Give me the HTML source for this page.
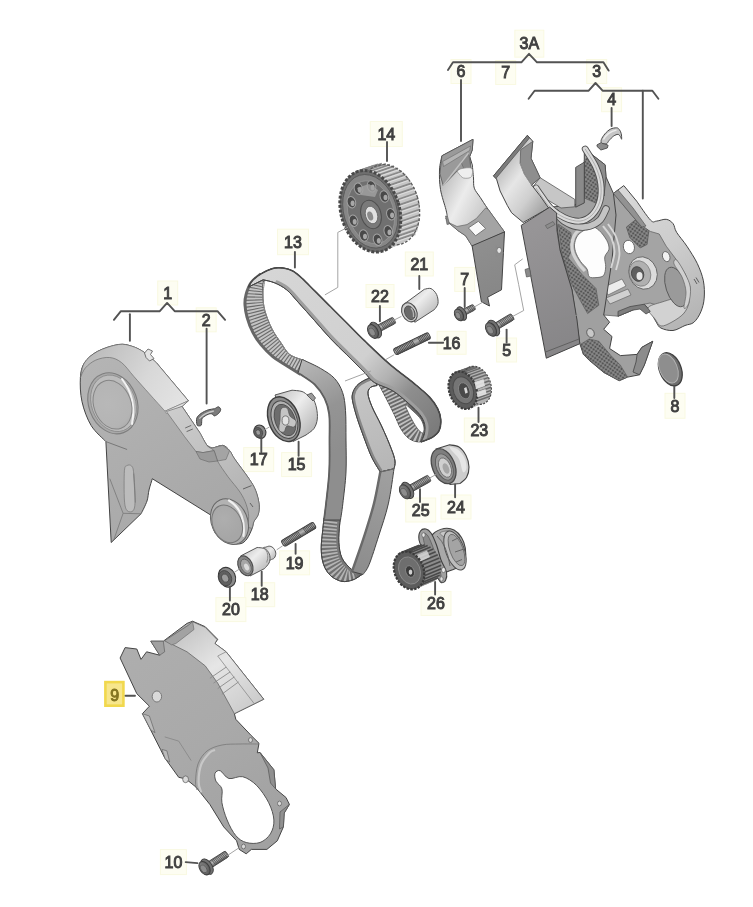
<!DOCTYPE html>
<html><head><meta charset="utf-8"><title>Timing belt</title>
<style>
html,body{margin:0;padding:0;background:#fff;}
body{width:753px;height:907px;overflow:hidden;font-family:"Liberation Sans",sans-serif;}
svg{display:block;}
.lb{font-family:"Liberation Sans",sans-serif;font-size:16px;fill:#404040;stroke:#404040;stroke-width:.95px;text-anchor:middle;}
.bx{fill:#fdfdf2;stroke:#f9f9e2;stroke-width:1;}
.ld{stroke:#525252;stroke-width:1.9;fill:none;stroke-linecap:round;stroke-linejoin:round;}
.th{stroke:#a4a4a4;stroke-width:1;fill:none;}
.o{stroke:#444;stroke-width:1;stroke-linejoin:round;}
</style></head><body>
<svg width="753" height="907" viewBox="0 0 753 907">
<defs>
<filter id="soft" x="-5%" y="-5%" width="110%" height="110%"><feGaussianBlur stdDeviation="0.65"/></filter>


<pattern id="mesh" width="3.1" height="3.1" patternUnits="userSpaceOnUse" patternTransform="rotate(35)">
 <rect width="3.1" height="3.1" fill="#9a9a9a"/><rect x=".4" y=".4" width="2.3" height="2.3" fill="#545454"/></pattern>
<linearGradient id="c3fin" gradientUnits="userSpaceOnUse" x1="498" y1="170" x2="545" y2="205">
 <stop offset="0" stop-color="#bcbcbc"/><stop offset=".35" stop-color="#e6e6e6"/><stop offset=".7" stop-color="#cfcfcf"/><stop offset="1" stop-color="#a8a8a8"/></linearGradient>
<linearGradient id="c3pan" gradientUnits="userSpaceOnUse" x1="525" y1="230" x2="580" y2="350">
 <stop offset="0" stop-color="#979597"/><stop offset="1" stop-color="#868587"/></linearGradient>
<linearGradient id="c3wall" gradientUnits="userSpaceOnUse" x1="625" y1="190" x2="705" y2="310">
 <stop offset="0" stop-color="#d8d8d8"/><stop offset=".5" stop-color="#cdcdcd"/><stop offset="1" stop-color="#b5b5b5"/></linearGradient>


<linearGradient id="c6body" gradientUnits="userSpaceOnUse" x1="440" y1="185" x2="490" y2="210">
 <stop offset="0" stop-color="#bdbdbd"/><stop offset=".45" stop-color="#ececec"/><stop offset="1" stop-color="#c4c4c4"/></linearGradient>
<linearGradient id="c6low" gradientUnits="userSpaceOnUse" x1="470" y1="240" x2="500" y2="300">
 <stop offset="0" stop-color="#909090"/><stop offset="1" stop-color="#868686"/></linearGradient>


<linearGradient id="c1face" gradientUnits="userSpaceOnUse" x1="110" y1="350" x2="230" y2="540">
 <stop offset="0" stop-color="#b4b4b4"/><stop offset=".5" stop-color="#adadad"/><stop offset="1" stop-color="#a6a6a6"/></linearGradient>
<linearGradient id="c1wall" gradientUnits="userSpaceOnUse" x1="95" y1="350" x2="185" y2="405">
 <stop offset="0" stop-color="#bcbcbc"/><stop offset=".55" stop-color="#d8d8d8"/><stop offset="1" stop-color="#e4e4e4"/></linearGradient>
<linearGradient id="c1wall2" gradientUnits="userSpaceOnUse" x1="175" y1="410" x2="255" y2="520">
 <stop offset="0" stop-color="#cccccc"/><stop offset=".5" stop-color="#bebebe"/><stop offset="1" stop-color="#adadad"/></linearGradient>
<radialGradient id="c1big" gradientUnits="userSpaceOnUse" cx="108" cy="402" r="30">
 <stop offset="0" stop-color="#b8b8b8"/><stop offset=".8" stop-color="#b4b4b4"/><stop offset="1" stop-color="#adadad"/></radialGradient>
<radialGradient id="c1sm" gradientUnits="userSpaceOnUse" cx="226" cy="518" r="20">
 <stop offset="0" stop-color="#aeaeae"/><stop offset="1" stop-color="#a6a6a6"/></radialGradient>


<linearGradient id="c9face" gradientUnits="userSpaceOnUse" x1="130" y1="640" x2="280" y2="850">
 <stop offset="0" stop-color="#aeaeae"/><stop offset=".5" stop-color="#a9a9a9"/><stop offset="1" stop-color="#a0a0a0"/></linearGradient>
<linearGradient id="c9roof" gradientUnits="userSpaceOnUse" x1="190" y1="625" x2="255" y2="710">
 <stop offset="0" stop-color="#c6c6c6"/><stop offset=".45" stop-color="#e6e6e6"/><stop offset="1" stop-color="#cacaca"/></linearGradient>


<linearGradient id="gTop" gradientUnits="userSpaceOnUse" x1="270" y1="270" x2="440" y2="430">
 <stop offset="0" stop-color="#d6d6d6"/><stop offset=".55" stop-color="#d0d0d0"/><stop offset=".68" stop-color="#b2b2b2"/><stop offset=".79" stop-color="#8e8e8e"/><stop offset="1" stop-color="#7a7a7a"/></linearGradient>
<linearGradient id="gLeftS" gradientUnits="userSpaceOnUse" x1="290" y1="355" x2="340" y2="450">
 <stop offset="0" stop-color="#bebebe"/><stop offset=".6" stop-color="#949494"/><stop offset="1" stop-color="#8e8e8e"/></linearGradient>
<linearGradient id="gV1" gradientUnits="userSpaceOnUse" x1="355" y1="385" x2="395" y2="465">
 <stop offset="0" stop-color="#c6c6c6"/><stop offset="1" stop-color="#b6b6b6"/></linearGradient>
<linearGradient id="gV2" gradientUnits="userSpaceOnUse" x1="390" y1="470" x2="355" y2="575">
 <stop offset="0" stop-color="#a0a0a0"/><stop offset="1" stop-color="#8c8c8c"/></linearGradient>
<clipPath id="clTL"><path d="M282.8,268.0C281.1,268.1 276.5,267.5 272.8,268.5C269.1,269.5 264.5,271.5 260.9,273.9C257.3,276.3 253.5,279.4 251.0,282.9C248.5,286.4 247.0,291.1 246.0,294.8C245.0,298.5 244.8,301.1 245.0,304.8C245.2,308.5 245.7,312.4 247.0,317.0C248.3,321.6 250.7,328.1 253.0,332.7C255.3,337.3 257.7,340.6 261.0,344.6C264.3,348.6 268.8,353.3 272.8,356.6C276.8,359.9 280.2,361.6 284.8,364.6C289.4,367.6 298.1,372.9 300.7,374.5L304.7,360.6C302.2,359.6 293.8,357.6 289.8,354.6C285.8,351.6 283.8,346.9 280.8,342.6C277.8,338.3 274.5,334.0 271.9,328.7C269.2,323.4 266.4,316.4 264.9,310.8C263.4,305.2 262.9,300.1 262.9,295.0C262.9,289.9 261.7,282.2 264.9,279.9C268.1,277.6 279.1,280.8 282.0,281.0Z"/></clipPath>
<clipPath id="clR"><path d="M374.0,377.0C374.7,378.0 376.0,379.5 378.0,383.0C380.0,386.5 383.2,392.7 386.0,398.0C388.8,403.3 392.0,409.8 394.5,415.0C397.0,420.2 398.6,425.1 401.0,429.0C403.4,432.9 405.9,436.4 409.0,438.5C412.1,440.6 415.9,442.1 419.9,441.9C423.8,441.7 430.6,437.9 432.7,437.1L423.0,434.0C423.2,432.7 424.5,428.8 424.2,426.0C423.9,423.2 423.0,420.2 421.0,417.0C419.0,413.8 414.7,410.2 412.0,407.0C409.3,403.8 408.2,403.2 405.0,398.0C401.8,392.8 394.8,379.7 392.7,376.0Z"/></clipPath>
<clipPath id="clB"><path d="M324.0,518.0C323.8,519.9 323.3,524.4 322.8,529.5C322.3,534.6 321.1,542.9 321.2,548.7C321.3,554.6 322.0,560.1 323.6,564.6C325.2,569.1 327.7,573.0 330.8,575.8C333.9,578.6 338.3,580.7 342.0,581.4C345.7,582.1 349.8,580.9 353.1,579.8C356.4,578.6 360.5,575.4 362.0,574.5L355.0,571.0C354.4,570.7 353.7,571.5 351.5,569.4C349.3,567.3 344.1,562.7 342.0,558.2C339.9,553.7 339.2,547.8 338.8,542.3C338.4,536.8 339.3,529.0 339.6,525.0C339.9,521.0 340.4,519.2 340.5,518.0Z"/></clipPath>
<clipPath id="clV"><path d="M375.0,377.0C373.5,377.4 369.0,378.1 366.0,379.5C363.0,380.9 359.2,383.1 357.0,385.5C354.8,387.9 353.2,391.1 352.5,394.0C351.8,396.9 352.1,398.8 353.0,403.0C353.9,407.2 355.5,413.0 357.6,419.5C359.7,426.0 363.2,435.5 365.6,441.9C368.0,448.3 369.6,452.8 372.0,457.8C374.4,462.8 378.9,469.6 380.3,472.0L394.0,468.8C394.2,467.5 395.5,464.4 395.0,461.0C394.5,457.6 393.4,454.2 391.1,448.3C388.9,442.4 384.7,432.8 381.5,425.9C378.3,419.0 374.2,412.0 372.0,406.7C369.8,401.4 368.3,397.1 368.0,393.9C367.7,390.7 368.9,388.9 370.4,387.5C371.9,386.1 375.9,385.8 377.0,385.5Z"/></clipPath>
<clipPath id="clT"><path d="M248.5,287.0C249.2,285.9 250.4,282.7 252.5,280.5C254.6,278.3 257.5,275.9 260.9,273.9C264.3,271.9 269.1,269.5 272.8,268.5C276.5,267.5 279.5,267.6 282.8,268.0C286.1,268.4 289.5,269.2 292.8,271.0C296.1,272.8 299.1,275.6 302.7,278.9C306.3,282.2 310.0,286.2 314.7,290.9C319.4,295.5 325.3,301.5 330.6,306.8C335.9,312.1 341.0,317.1 346.6,322.7C352.2,328.3 357.4,333.9 364.5,340.7C371.6,347.5 380.6,356.3 389.0,363.6C397.4,370.9 408.4,378.7 415.1,384.3C421.9,389.9 425.8,393.1 429.5,397.1C433.2,401.1 435.6,404.6 437.5,408.3C439.4,412.0 440.4,415.8 440.7,419.5C441.0,423.2 440.4,427.8 439.1,430.7C437.8,433.6 435.7,435.2 432.7,437.1C429.7,439.0 422.9,441.1 421.0,441.9L421.0,441.9C421.6,440.6 423.8,436.8 424.4,433.9C425.0,431.0 425.4,427.5 424.7,424.3C423.9,421.1 422.6,418.2 419.9,414.7C417.2,411.2 413.2,407.5 408.7,403.5C404.2,399.5 398.4,394.2 392.7,390.7C387.0,387.2 379.1,385.5 374.4,382.5C369.7,379.5 369.1,377.1 364.5,372.5C359.9,367.9 352.2,360.2 346.6,354.6C341.0,349.0 335.9,344.4 330.6,338.7C325.3,333.0 320.0,326.7 314.7,320.7C309.4,314.7 303.3,307.9 298.7,302.8C294.1,297.7 290.8,293.2 286.8,289.9C282.8,286.6 278.8,284.6 274.8,282.9C270.9,281.2 265.1,280.3 263.1,279.8Z"/></clipPath>

<linearGradient id="gCyl" x1="0" y1="0" x2="1" y2="1">
 <stop offset="0" stop-color="#bdbdbd"/><stop offset=".4" stop-color="#ededed"/><stop offset="1" stop-color="#a6a6a6"/></linearGradient>
<linearGradient id="gBolt" x1="0" y1="0" x2="0" y2="1">
 <stop offset="0" stop-color="#7c7c7c"/><stop offset=".45" stop-color="#b5b5b5"/><stop offset="1" stop-color="#555"/></linearGradient>
<radialGradient id="gHead" cx=".4" cy=".4" r=".7">
 <stop offset="0" stop-color="#9a9a9a"/><stop offset="1" stop-color="#4a4a4a"/></radialGradient>


</defs>
<rect width="753" height="907" fill="#fff"/>
<g filter="url(#soft)">
<rect class="bx" x="514.8" y="30.2" width="29.0" height="27.0"/>
<rect class="bx" x="451.0" y="59.5" width="20.0" height="24.0"/>
<rect class="bx" x="495.7" y="60.5" width="20.0" height="24.0"/>
<rect class="bx" x="586.7" y="59.5" width="20.0" height="24.0"/>
<rect class="bx" x="601.6" y="87.7" width="20.0" height="24.0"/>
<rect class="bx" x="370.3" y="121.5" width="32.0" height="25.0"/>
<rect class="bx" x="277.5" y="229.2" width="31.0" height="25.5"/>
<rect class="bx" x="405.3" y="252.0" width="28.0" height="24.0"/>
<rect class="bx" x="366.0" y="284.5" width="28.0" height="23.0"/>
<rect class="bx" x="454.7" y="267.4" width="20.0" height="24.0"/>
<rect class="bx" x="437.1" y="331.3" width="29.0" height="23.0"/>
<rect class="bx" x="496.6" y="338.0" width="20.0" height="24.0"/>
<rect class="bx" x="665.0" y="393.3" width="20.0" height="25.0"/>
<rect class="bx" x="464.3" y="418.0" width="30.0" height="24.0"/>
<rect class="bx" x="441.0" y="495.0" width="30.0" height="24.0"/>
<rect class="bx" x="405.7" y="498.0" width="30.0" height="24.0"/>
<rect class="bx" x="421.0" y="591.4" width="30.0" height="24.0"/>
<rect class="bx" x="157.7" y="281.0" width="20.0" height="24.0"/>
<rect class="bx" x="196.2" y="307.8" width="20.0" height="24.0"/>
<rect class="bx" x="243.7" y="447.6" width="30.0" height="24.0"/>
<rect class="bx" x="281.6" y="452.6" width="30.0" height="24.0"/>
<rect class="bx" x="279.6" y="550.8" width="30.0" height="24.0"/>
<rect class="bx" x="244.7" y="582.7" width="30.0" height="24.0"/>
<rect class="bx" x="215.9" y="597.6" width="30.0" height="24.0"/>
<rect class="bx" x="160.4" y="849.6" width="26.0" height="25.0"/>
<rect x="105.4" y="682.1" width="18" height="23.6" fill="#f7e68c" stroke="#f1d84e" stroke-width="2.6"/>
<path d="M613.4,193.4 L623.8,185.6 L636.7,201.2C639.0,204.4 647.3,216.9 650.6,220.2C653.9,223.5 654.0,221.2 656.6,221.1C659.2,220.9 663.5,218.9 666.2,219.3C669.0,219.7 671.4,221.5 673.1,223.7C674.8,225.9 674.3,228.6 676.6,232.3C678.9,236.1 683.5,241.0 686.9,246.2C690.3,251.4 694.5,257.7 697.3,263.5C700.0,269.3 702.2,275.0 703.4,280.8C704.5,286.6 704.6,292.9 704.2,298.1C703.8,303.3 702.5,307.9 700.8,311.9C699.1,315.9 696.5,320.0 693.9,322.3C691.3,324.6 688.5,324.1 685.0,325.5C681.5,326.9 677.0,330.1 673.0,330.5C669.0,330.9 663.8,329.5 661.0,328.1C658.2,326.7 658.1,325.0 656.3,322.2C654.5,319.4 652.3,314.4 650.3,311.4C648.3,308.4 645.3,305.4 644.3,304.2L632.4,310.2 L618,316.2 L618,311.4 L603.7,315 L596,290 L606,200 Z" fill="url(#c3wall)" class="o" stroke-width="1.1"/>
<path d="M613.4,193.4 L627.2,209.8 L641.9,227.1 L650.6,231.5 L659.2,234.0 L666.2,246.2 L676.6,260.0 L685.2,273.9 L690.4,287.7 L688.7,303.3 L683.5,313.7 L672.0,318.0 L660.0,306.0 L650.0,303.0 L644.3,304.2 L632.4,310.2 L618.0,316.2 L603.7,315.0 L596.0,290.0 L604.0,200.0Z" fill="#a4a4a4" stroke="#666" stroke-width=".8"/>
<path d="M648.0,308.0C649.2,305.2 655.7,304.0 662.0,302.0C668.3,300.0 681.5,295.8 686.0,296.0C690.5,296.2 689.1,300.4 688.7,303.3C688.3,306.2 686.3,310.6 683.5,313.7C680.7,316.8 675.8,319.9 672.0,322.0C668.2,324.1 663.8,326.5 661.0,326.0C658.2,325.5 657.2,322.0 655.0,319.0C652.8,316.0 646.8,310.8 648.0,308.0Z" fill="#d2d2d2" stroke="#666" stroke-width=".8"/>
<ellipse cx="676" cy="287" rx="10" ry="20.5" transform="rotate(-18 676 287)" fill="#9a9a9a" stroke="#5a5a5a" stroke-width=".9"/>
<path d="M676.6,260.0C678.5,261.6 682.9,269.3 685.2,273.9C687.5,278.5 689.8,282.8 690.4,287.7C691.0,292.6 689.8,299.9 688.7,303.3C687.6,306.7 684.5,309.9 684.0,308.0C683.5,306.1 686.3,297.2 686.0,292.0C685.7,286.8 684.0,281.7 682.0,277.0C680.0,272.3 674.9,266.8 674.0,264.0C673.1,261.2 674.7,258.4 676.6,260.0Z" fill="#d0d0d0" stroke="#666" stroke-width=".7"/>
<path d="M626.4,227.1 L635.0,220.2 L648.9,230.6 L647.1,244.4 L640.2,247.9 L629.8,237.5Z" fill="url(#mesh)" stroke="#555" stroke-width=".7"/>
<path d="M613.4,193.4 L618.0,190.0 L633.0,208.0 L646.0,226.0 L641.9,227.1 L627.2,209.8Z" fill="#929292" stroke="#555" stroke-width=".7"/>
<ellipse cx="643" cy="273" rx="14" ry="16.5" transform="rotate(-20 643 273)" fill="#dcdcdc" stroke="#666" stroke-width=".9"/>
<ellipse cx="640" cy="273.5" rx="10.5" ry="13" transform="rotate(-20 640 273.5)" fill="#b0b0b0" stroke="#777" stroke-width=".7"/>
<ellipse cx="637.6" cy="274" rx="6" ry="7.5" transform="rotate(-20 637.6 274)" fill="#5e5e5e" stroke="#444" stroke-width=".8"/>
<ellipse cx="639.5" cy="276" rx="3" ry="4" fill="#e8e8e8"/>
<ellipse cx="628.9" cy="247" rx="5.5" ry="6.8" transform="rotate(-15 628.9 247)" fill="#fff" stroke="#666" stroke-width=".9"/>
<ellipse cx="666.2" cy="256.6" rx="3.6" ry="5.2" transform="rotate(-20 666.2 256.6)" fill="#f2f2f2" stroke="#666" stroke-width=".9"/>
<path d="M694,279 l3,5 M696,277.5 l3,5" stroke="#555" stroke-width=".9"/>
<path d="M618.0,311.4 L630.0,306.6 L644.3,304.2 L650.3,311.4 L646.0,314.0 L640.0,309.0 L632.4,310.2 L618.0,316.2Z" fill="#7e7e7e" stroke="#4a4a4a" stroke-width=".8"/>
<path d="M604.0,287.0 L622.0,279.0 L626.0,286.0 L608.0,295.0Z" fill="#ececec" stroke="#666" stroke-width=".7"/>
<path d="M606.0,298.0 L628.0,289.0 L631.0,295.0 L610.0,304.0Z" fill="#d0d0d0" stroke="#666" stroke-width=".7"/>
<path d="M584.3,147.5 L589.5,152.7 L605.1,164.8 L606.0,176.9 L613.4,193.4 L616.0,215.0 L612.0,260.0 L606.0,300.0 L603.7,315.0 L609.6,322.2 L603.7,329.3 L612.0,336.5 L609.6,348.5 L620.4,355.6 L637.1,354.4 L641.9,347.3 L652.7,341.3 L644.3,365.2 L639.5,374.8 L627.6,377.1 L619.2,380.7 L603.7,372.4 L589.3,360.4 L583.4,354.4 L579.8,343.7 L572.0,290.0 L560.0,250.0 L556.9,225.0 L552.0,207.0 L575.0,205.0 L584.3,195.0Z" fill="#a0a0a0" class="o" stroke-width="1.1"/>
<path d="M558.3,224.0 L570.9,232.7 L572.3,249.4 L568.1,257.8 L582.0,274.5 L596.0,288.5 L598.8,305.2 L587.6,313.6 L580.0,300.0 L572.0,285.0 L562.0,255.0Z" fill="url(#mesh)" stroke="#555" stroke-width=".6"/>
<path d="M583.4,354.4 L603.7,372.4 L619.2,380.7 L627.6,377.1 L620.4,365.2 L610.9,355.6 L598.9,341.3 L589.3,338.9 L581.0,344.0Z" fill="url(#mesh)" stroke="#555" stroke-width=".6"/>
<path d="M584.3,160.0 L590.0,156.0 L598.0,172.0 L600.5,190.0 L598.0,204.0 L584.3,198.0Z" fill="url(#mesh)" stroke="#555" stroke-width=".6"/>
<path d="M637.1,354.4 L641.9,347.3 L652.7,341.3 L644.3,365.2 L639.5,374.8 L633.0,372.0 L636.0,362.0Z" fill="#8c8c8c" stroke="#444" stroke-width=".8"/>
<ellipse cx="590.5" cy="333" rx="3.6" ry="4.6" transform="rotate(-25 590.5 333)" fill="#c8c8c8" stroke="#555" stroke-width=".8"/>
<path d="M591.4,227.1C594.7,226.6 596.5,228.2 599.1,230.4C601.7,232.6 605.1,237.3 606.8,240.4C608.4,243.5 609.3,246.4 609.0,249.2C608.7,251.9 605.3,254.0 604.8,256.9C604.2,259.8 605.9,263.7 605.7,266.8C605.5,269.9 605.1,273.8 603.5,275.6C601.9,277.4 598.4,277.4 596.0,277.6C593.6,277.8 590.7,278.1 589.2,276.7C587.7,275.3 588.5,271.6 587.0,269.0C585.5,266.4 582.3,264.2 580.4,261.3C578.5,258.4 576.3,254.5 575.4,251.4C574.5,248.3 574.1,245.6 574.8,242.6C575.4,239.6 576.5,236.3 579.3,233.7C582.1,231.1 588.1,227.6 591.4,227.1Z" fill="#fdfdfd" stroke="#666" stroke-width=".9"/>
<path d="M586.0,226.5C584.3,227.6 578.3,230.2 576.0,233.0C573.7,235.8 572.5,239.7 572.0,243.0C571.5,246.3 571.8,249.5 573.0,253.0C574.2,256.5 577.0,261.0 579.0,264.0C581.0,267.0 584.0,269.8 585.0,271.0" fill="none" stroke="#d4d4d4" stroke-width="3.2"/>
<path d="M603.0,226.0C604.4,228.0 609.6,233.7 611.5,238.0C613.4,242.3 614.6,247.0 614.5,252.0C614.4,257.0 611.6,265.3 611.0,268.0" fill="none" stroke="#d5d5d5" stroke-width="2"/>
<path d="M608.0,224.0C609.4,226.3 614.6,233.0 616.5,238.0C618.4,243.0 619.6,248.7 619.5,254.0C619.4,259.3 616.6,267.3 616.0,270.0" fill="none" stroke="#d8d8d8" stroke-width="1.8"/>
<path d="M575.7,167.4 L584.3,162.2 L584.3,202.9 L575.7,207.2Z" fill="#8a8a8a" stroke="#444" stroke-width=".9"/>
<path d="M584.3,147.5 L589.5,152.7 L605.1,164.8 L606.0,176.9 L604.0,196.0 L598.0,170.0 L590.0,155.0Z" fill="#8e8e8e" stroke="#4a4a4a" stroke-width=".8"/>
<path d="M540.1,177.7 L574.8,199.4 L574.8,206.8 L561.0,208.0 L546.0,199.0 L533.5,186.0Z" fill="#c6c6c6" stroke="#555" stroke-width=".8"/>
<path d="M556.0,213.0C557.3,214.3 560.5,218.8 564.0,221.0C567.5,223.2 572.7,225.7 577.0,226.5C581.3,227.3 586.2,227.1 590.0,226.0C593.8,224.9 597.3,222.8 600.0,220.0C602.7,217.2 605.0,210.8 606.0,209.0" fill="none" stroke="#4f4f4f" stroke-width="7.5" stroke-linecap="round"/>
<path d="M556.0,213.0C557.3,214.3 560.5,218.8 564.0,221.0C567.5,223.2 572.7,225.7 577.0,226.5C581.3,227.3 586.2,227.1 590.0,226.0C593.8,224.9 597.3,222.8 600.0,220.0C602.7,217.2 605.0,210.8 606.0,209.0" fill="none" stroke="#c4c4c4" stroke-width="5.7" stroke-linecap="round"/>
<path d="M536.0,188.0C536.7,189.0 537.8,190.8 540.2,194.2C542.6,197.5 546.6,204.2 550.6,208.1C554.6,212.0 559.5,215.4 564.4,217.6C569.3,219.8 575.4,221.5 580.0,221.1C584.6,220.7 588.8,218.3 592.1,215.0C595.4,211.7 598.5,206.4 599.9,201.2C601.3,196.0 601.5,189.7 600.8,183.9C600.1,178.1 598.2,172.3 595.6,166.5C593.0,160.7 586.9,151.9 585.2,149.0" fill="none" stroke="#4f4f4f" stroke-width="6.8" stroke-linecap="round"/>
<path d="M536.0,188.0C536.7,189.0 537.8,190.8 540.2,194.2C542.6,197.5 546.6,204.2 550.6,208.1C554.6,212.0 559.5,215.4 564.4,217.6C569.3,219.8 575.4,221.5 580.0,221.1C584.6,220.7 588.8,218.3 592.1,215.0C595.4,211.7 598.5,206.4 599.9,201.2C601.3,196.0 601.5,189.7 600.8,183.9C600.1,178.1 598.2,172.3 595.6,166.5C593.0,160.7 586.9,151.9 585.2,149.0" fill="none" stroke="#dadada" stroke-width="5" stroke-linecap="round"/>
<path d="M536.0,188.0C536.7,189.0 537.8,190.8 540.2,194.2C542.6,197.5 546.6,204.2 550.6,208.1C554.6,212.0 559.5,215.4 564.4,217.6C569.3,219.8 575.4,221.5 580.0,221.1C584.6,220.7 588.8,218.3 592.1,215.0C595.4,211.7 598.5,206.4 599.9,201.2C601.3,196.0 601.5,189.7 600.8,183.9C600.1,178.1 598.2,172.3 595.6,166.5C593.0,160.7 586.9,151.9 585.2,149.0" fill="none" stroke="#a2a2a2" stroke-width=".8"/>
<path d="M527.4,135.3 L532.8,141.3 L531.0,158.3 L540.1,177.7 L531.6,185.0 L540.1,195.9 L548.6,208.0 L523.2,222.5 L511.6,212.8 L507.4,205.6 L500.1,191.0 L496.5,178.9 L493.5,175.9Z" fill="url(#c3fin)" class="o" stroke-width="1.2"/>
<path d="M520.7,149.8 L529.2,143.8 L532.8,141.3 L531.0,158.3 L540.1,177.7 L531.6,185.0 L524.4,174.1 L520.1,163.2Z" fill="#8e8e8e" stroke="#555" stroke-width=".7"/>
<path d="M527.4,135.3 L493.5,175.9 L495.8,178.6 L529.5,138.0Z" fill="#7c7c7c" stroke="#4a4a4a" stroke-width=".7"/>
<path d="M520.1,163.2 L524.4,174.1 L531.6,185" stroke="#9a9a9a" stroke-width=".8" fill="none"/>
<path d="M521.2,225.4 L549.7,207.2 L556.6,213.0 L556.9,229.9 L560.0,250.0 L566.0,270.0 L572.0,290.0 L577.0,320.0 L579.8,343.7 L546.3,358.2Z" fill="url(#c3pan)" class="o" stroke-width="1.1"/>
<path d="M542.7,324.5 L577.4,315" stroke="#8a8a8a" stroke-width="1"/>
<path d="M545.5,352 L579,339" stroke="#555" stroke-width=".8"/>
<path d="M545.4,225.5 L553.0,221.5 L555.0,224.5 L547.4,228.6Z" fill="#8c8c8c" stroke="#555" stroke-width=".6"/>
<path d="M529.5,268.0 L525.0,269.5 L526.5,277.0 L531.0,276.0Z" fill="#8a8a8a" stroke="#555" stroke-width=".7"/>
<path d="M473,139.3 L441.9,155.8C441.5,158.2 439.7,164.4 439.5,170.0C439.3,175.6 439.4,182.9 440.5,189.5C441.6,196.1 444.8,205.0 445.9,209.4C447.0,213.8 447.0,214.9 447.2,216.0L446,218.5 L448.5,222.5 L457.8,230.5 L465.7,235.8 L472.3,246.4 L504.5,231.9C501.8,228.2 492.2,215.1 488.2,209.4C484.2,203.7 482.6,201.0 480.3,197.5C478.0,194.0 475.4,191.4 474.3,188.2C473.2,184.9 473.8,181.9 473.5,178.0C473.2,174.1 472.5,167.2 472.3,165.0L469.7,156.5 L472.3,149.8 Z" fill="url(#c6body)" class="o" stroke-width="1.2"/>
<path d="M448.5,222.5 L457.0,226.5 L467.0,224.6 L476.3,218.6 L485.6,208.0 L488.2,209.4 L504.5,231.9 L472.3,246.4 L465.7,235.8 L457.8,230.5Z" fill="#a4a4a4" stroke="#666" stroke-width=".7"/>
<path d="M441.9,155.8 L473.0,139.3 L472.3,149.8 L469.7,156.5 L471.0,168.4 L458.4,169.7 L443.2,185.6 L439.9,173.7Z" fill="#9a9a9a" stroke="#555" stroke-width=".8"/>
<path d="M442.6,161.5 L470.5,146.0 L469.7,150.5 L443.5,166.5Z" fill="#b4b4b4" stroke="#6a6a6a" stroke-width=".6"/>
<path d="M468.5,153.0 L471.0,168.4 L464.0,169.0 L461.0,162.0Z" fill="#8a8a8a" stroke="#5f5f5f" stroke-width=".6"/>
<path d="M443.2,185.6 L468.5,153" stroke="#c2c2c2" stroke-width="1.4"/>
<path d="M457.5,171.0C457.9,170.0 459.8,169.0 462.0,168.5C464.2,168.0 469.2,167.3 471.0,168.0C472.8,168.7 472.6,170.9 472.5,172.5C472.4,174.1 472.0,176.6 470.5,177.5C469.0,178.4 465.3,178.5 463.5,178.0C461.7,177.5 460.5,175.7 459.5,174.5C458.5,173.3 457.1,172.0 457.5,171.0Z" fill="#efefef" stroke="#8a8a8a" stroke-width=".7"/>
<path d="M468.4,227.9 L478.3,221.3 L485.6,228.5 L475.6,235.8Z" fill="#fafafa" stroke="#6e6e6e" stroke-width=".9"/>
<path d="M445.5,216.0 L447.5,216.5 L449.5,224.0 L447.0,224.5Z" fill="#8a8a8a" stroke="#555" stroke-width=".6"/>
<path d="M472.1,245.8 L504.5,231.9 L501.5,289.8 L487.6,297.2 L489.5,306.0 L481.4,301.8Z" fill="url(#c6low)" class="o" stroke-width="1.1"/>
<ellipse cx="499.2" cy="250.4" rx="2.3" ry="3" fill="#e6e6e6" stroke="#555" stroke-width=".6"/>
<path d="M496.4,245.8 L496.4,256.2 L503.8,252.7" fill="none" stroke="#8a8a8a" stroke-width=".8"/>
<path d="M105.9,441.6C103.5,438.9 95.2,432.2 91.2,425.6C87.2,419.0 83.8,409.7 82.0,401.7C80.2,393.7 80.0,384.0 80.4,377.5C80.8,371.0 81.7,367.1 84.5,362.7C87.3,358.3 91.9,354.4 97.5,351.4C103.1,348.4 112.5,345.4 118.3,344.5C124.1,343.6 127.8,345.0 132.1,346.3C136.4,347.6 140.1,349.6 144.2,352.3C148.2,355.0 154.4,361.0 156.4,362.7L188.4,400.8 L182,406.4 L200.2,433.3C201.3,435.3 205.1,442.9 207.1,445.4C209.1,447.8 209.7,448.0 212.3,448.0C214.9,448.0 219.8,445.0 222.7,445.4C225.6,445.8 227.6,448.3 229.6,450.6C231.6,452.9 231.6,454.6 234.8,459.2C238.0,463.8 245.2,473.1 248.7,478.3C252.2,483.5 253.9,486.1 255.6,490.4C257.3,494.7 258.7,500.2 259.1,504.2C259.5,508.2 259.1,511.7 258.2,514.6C257.3,517.5 254.9,519.3 253.9,521.6C252.9,523.9 253.3,525.6 252.1,528.5C250.9,531.4 248.9,536.4 246.9,538.9C244.9,541.4 243.4,543.2 240.0,543.8C236.6,544.4 230.9,544.5 226.7,542.5C222.5,540.5 217.1,536.3 214.7,531.9C212.3,527.5 212.5,518.6 212.1,515.9L152.3,478.7C151.8,480.6 149.9,486.3 149.0,490.0C148.1,493.7 148.3,497.1 147.0,501.0C145.7,504.9 142.2,511.5 141.2,513.6L111.2,542.5 Z" fill="url(#c1face)" class="o" stroke-width="1.2"/>
<path d="M80.4,377.5C81.1,375.0 81.7,367.1 84.5,362.7C87.3,358.3 91.9,354.4 97.5,351.4C103.1,348.4 112.5,345.4 118.3,344.5C124.1,343.6 127.8,345.0 132.1,346.3C136.4,347.6 140.1,349.6 144.2,352.3C148.2,355.0 154.4,361.0 156.4,362.7L188.4,400.8 L165,411.2C162.4,408.3 154.6,399.7 149.4,393.9C144.2,388.1 138.5,381.7 133.9,376.5C129.3,371.3 125.8,365.9 121.7,362.7C117.7,359.5 113.9,357.9 109.6,357.5C105.3,357.1 99.8,358.4 95.8,360.1C91.8,361.8 88.0,365.0 85.4,367.9C82.8,370.8 81.2,375.9 80.4,377.5Z" fill="url(#c1wall)" stroke="#6e6e6e" stroke-width=".7"/>
<path d="M165.0,411.2 L188.4,400.8 L182.0,406.4 L166.4,413.6Z" fill="#e2e2e2" stroke="#777" stroke-width=".6"/>
<path d="M182,406.4 L200.2,433.3C201.3,435.3 205.1,442.9 207.1,445.4C209.1,447.8 209.7,448.0 212.3,448.0C214.9,448.0 219.8,445.0 222.7,445.4C225.6,445.8 227.6,448.3 229.6,450.6C231.6,452.9 231.6,454.6 234.8,459.2C238.0,463.8 245.2,473.1 248.7,478.3C252.2,483.5 253.9,486.1 255.6,490.4C257.3,494.7 258.7,500.2 259.1,504.2C259.5,508.2 259.1,511.7 258.2,514.6C257.3,517.5 254.9,519.3 253.9,521.6C252.9,523.9 252.4,527.4 252.1,528.5L247,527C247.3,525.2 248.8,520.2 248.7,516.4C248.5,512.6 247.5,508.2 246.1,504.2C244.7,500.1 243.0,496.7 240.0,492.1C237.0,487.5 231.7,481.8 227.9,476.6C224.2,471.4 219.8,465.3 217.5,461.0C215.2,456.7 214.7,452.3 214.1,450.6L203,452.6 L195.9,451.4 L184.6,436.7 L166.4,411.5 Z" fill="url(#c1wall2)" stroke="#6e6e6e" stroke-width=".7"/>
<path d="M207.1,445.4 L212.3,448.0 L222.7,445.4 L229.6,450.6 L226.0,459.5 L217.5,461.0 L214.1,450.6Z" fill="#a4a4a4" stroke="#666" stroke-width=".6"/>
<path d="M195.9,451.4 L203.0,452.6 L214.1,450.6 L217.5,461.0 L209.0,462.0 L200.0,459.0Z" fill="#9a9a9a" stroke="#666" stroke-width=".6"/>
<path d="M185.2,428 l6,-2.6 M186.6,431.6 l6.2,-2.6" stroke="#6a6a6a" stroke-width="1" fill="none"/>
<path d="M243,489 l8.5,-3.4 M250,503 l3,4" stroke="#5a5a5a" stroke-width=".9" fill="none"/>
<ellipse cx="112.9" cy="403.3" rx="24.2" ry="31.2" transform="rotate(-20 112.9 403.3)" fill="#a9a9a9" stroke="#7e7e7e" stroke-width="1.1"/>
<ellipse cx="113.5" cy="403.3" rx="22" ry="29" transform="rotate(-20 113.5 403.3)" fill="#bcbcbc" stroke="#8a8a8a" stroke-width=".8"/>
<path d="M122,379 Q137,398 132,424" stroke="#f2f2f2" stroke-width="2" fill="none" stroke-linecap="round"/>
<ellipse cx="112.5" cy="404.7" rx="18.6" ry="25" transform="rotate(-20 112.5 404.7)" fill="url(#c1big)" stroke="#858585" stroke-width="1"/>
<ellipse cx="229.5" cy="521.6" rx="18" ry="23.6" transform="rotate(-24 229.5 521.6)" fill="#b2b2b2" stroke="#666" stroke-width="1"/>
<path d="M229,500.5 Q246,511 243.5,536" stroke="#f0f0f0" stroke-width="2.2" fill="none" stroke-linecap="round"/>
<ellipse cx="227.2" cy="523.9" rx="14.4" ry="19.6" transform="rotate(-24 227.2 523.9)" fill="url(#c1sm)" stroke="#777" stroke-width="1"/>
<path d="M124.4,470.8C124.9,465.0 125.9,466.3 127.1,465.5C128.3,464.7 130.5,464.7 131.6,466.0C132.7,467.3 133.2,467.8 133.7,473.4C134.3,479.1 135.2,493.8 135.1,500.0C135.0,506.2 134.5,508.8 133.2,510.6C131.9,512.4 128.6,512.4 127.1,510.6C125.6,508.8 124.9,506.6 124.4,500.0C124.0,493.3 124.0,476.5 124.4,470.8Z" fill="#bcbcbc" stroke="#767676" stroke-width=".7"/>
<path d="M133.7,473.4 L135.3,502.6" stroke="#777" stroke-width=".8"/>
<path d="M109.8,478.7 L123.1,513.3 L141.2,513.8" stroke="#777" stroke-width=".8" fill="none"/>
<path d="M123.1,513.3 L113.8,539.8" stroke="#777" stroke-width=".8" fill="none"/>
<path d="M105.9,441.6 L127.1,449.5" stroke="#6a6a6a" stroke-width=".8" fill="none"/>
<path d="M144.5,353.0 L148.0,349.0 L152.5,351.0 L150.5,354.5 L154.0,358.5 L149.5,361.0 L146.0,357.5Z" fill="#e4e4e4" stroke="#555" stroke-width=".8"/>
<path d="M192.6,621.2 L205.2,626.7 L217.7,639.3 L214.9,643.5 L226.1,651.8 L263.7,699.2 L234.4,713.7 L235.8,719.3 L251.2,735.5 L259.0,743.3 L257.3,752.8 L260.0,752.5 L273.9,769.8 L275.6,788.9 L286.0,797.5 L289.4,804.4 L284.2,813.1 L283.4,826.9 L277.3,840.8 L266.9,849.4 L251.4,849.4 L246.2,853.8 L239.2,849.4 L236.6,840.8 L223.7,826.9 L209.8,804.4 L196.0,787.1 L186.0,779.0 L178.7,777.3 L164.7,757.8 L160.5,749.4 L142.4,713.7 L149.4,706.2 L136.8,693.7 L120.1,658.0 L125.1,647.6 L136.8,649.0 L141.0,659.4 L146.6,651.8 L159.7,655.2 L150.8,641.2 L163.3,641.2 L187.0,623.4Z" fill="url(#c9face)" class="o" stroke-width="1.1"/>
<path d="M164.7,640.7 L188.4,625.3 L192.6,621.7 L205.2,627.3 L217.1,639.6 L214.9,643.5 L226.1,651.8 L263.7,699.2 L234.4,713.7 L217.7,683.1 L205.2,665.8 L187.0,651.8Z" fill="url(#c9roof)" stroke="#666" stroke-width=".8"/>
<path d="M164.7,640.7 L188.4,625.3 L192.6,621.7 L194.0,629.5 L175.9,643.5 L171.7,644.9Z" fill="#a2a2a2" stroke="#666" stroke-width=".6"/>
<path d="M150.8,641.2 L163.3,641.2 L164.7,651.8 L159.7,655.2Z" fill="#a0a0a0" stroke="#555" stroke-width=".6"/>
<path d="M209.9,678.3 L226.1,667.2" stroke="#8a8a8a" stroke-width=".9"/>
<path d="M213.5,683.1 L230.2,671.9" stroke="#8a8a8a" stroke-width=".9"/>
<path d="M217.7,688.6 L234.4,676.9" stroke="#8a8a8a" stroke-width=".9"/>
<path d="M221.9,694.2 L238.6,681.9" stroke="#8a8a8a" stroke-width=".9"/>
<path d="M226.1,651.8 L217.7,656.0 L254.0,703.4" stroke="#8a8a8a" stroke-width=".8" fill="none"/>
<path d="M215.0,773.3C215.7,771.6 217.9,769.8 220.2,770.7C222.5,771.6 225.2,777.5 228.9,778.5C232.7,779.5 238.1,775.6 242.7,776.7C247.3,777.9 252.3,781.1 256.6,785.4C260.9,789.7 265.8,796.9 268.7,802.7C271.6,808.5 273.6,814.8 273.9,820.0C274.2,825.2 272.7,830.1 270.4,833.9C268.1,837.6 264.0,841.1 260.0,842.5C256.0,843.9 250.2,843.6 246.2,842.5C242.2,841.4 239.0,839.4 235.8,835.6C232.6,831.9 229.4,825.5 227.1,820.0C224.8,814.5 222.8,807.9 221.9,802.7C221.0,797.5 222.9,792.5 221.9,788.9C220.9,785.3 217.1,783.7 215.9,781.1C214.8,778.5 214.3,775.0 215.0,773.3Z" fill="#fff" stroke="#555" stroke-width="1"/>
<path d="M215.0,750.0C214.1,750.4 212.1,750.1 209.8,752.5C207.5,754.9 203.1,759.7 201.2,764.6C199.3,769.5 198.6,777.3 198.6,781.9C198.6,786.5 200.8,790.6 201.2,792.3" fill="none" stroke="#c8c8c8" stroke-width="2.2"/>
<path d="M258.0,744.0C255.0,744.0 246.0,743.8 240.0,744.0C234.0,744.2 227.5,743.8 222.0,745.0C216.5,746.2 211.0,747.8 207.0,751.0C203.0,754.2 199.9,758.8 198.0,764.0C196.1,769.2 195.7,777.7 195.5,782.0C195.3,786.3 196.8,788.7 197.0,790.0" fill="none" stroke="#777" stroke-width=".8"/>
<ellipse cx="156.9" cy="696.5" rx="4.7" ry="5.5" fill="#d9d9d9" stroke="#666" stroke-width=".8"/>
<ellipse cx="185.6" cy="779.3" rx="2.9" ry="3.4" fill="#d9d9d9" stroke="#666" stroke-width=".8"/>
<ellipse cx="250.5" cy="740.0" rx="2.0" ry="2.4" fill="#d9d9d9" stroke="#666" stroke-width=".8"/>
<ellipse cx="279.5" cy="803.5" rx="2.0" ry="2.4" fill="#d9d9d9" stroke="#666" stroke-width=".8"/>
<ellipse cx="243.5" cy="846.5" rx="2.0" ry="2.4" fill="#d9d9d9" stroke="#666" stroke-width=".8"/>
<path d="M142.4,713.7 L149.4,716.0 L155.0,732.7 L150.8,729.9Z" fill="#bcbcbc" stroke="#666" stroke-width=".7"/>
<path d="M161.9,749.4 L166.9,750.8 L169.7,762.0 L165.3,759.2Z" fill="#bcbcbc" stroke="#666" stroke-width=".7"/>
<path d="M260.0,752.5 L273.9,769.8 L275.6,788.9 L270.5,783.0 L268.0,768.0Z" fill="#909090" stroke="#555" stroke-width=".7"/>
<path d="M289.4,804.4 L284.2,813.1 L283.4,826.9 L279.5,829.0 L280.0,812.0Z" fill="#909090" stroke="#555" stroke-width=".7"/>
<path d="M164.7,736.9 L178.7,741.1 L191.2,760.6" stroke="#858585" stroke-width=".8" fill="none"/>
<path d="M282.8,268.0C281.1,268.1 276.5,267.5 272.8,268.5C269.1,269.5 264.5,271.5 260.9,273.9C257.3,276.3 253.5,279.4 251.0,282.9C248.5,286.4 247.0,291.1 246.0,294.8C245.0,298.5 244.8,301.1 245.0,304.8C245.2,308.5 245.7,312.4 247.0,317.0C248.3,321.6 250.7,328.1 253.0,332.7C255.3,337.3 257.7,340.6 261.0,344.6C264.3,348.6 268.8,353.3 272.8,356.6C276.8,359.9 280.2,361.6 284.8,364.6C289.4,367.6 298.1,372.9 300.7,374.5L304.7,360.6C302.2,359.6 293.8,357.6 289.8,354.6C285.8,351.6 283.8,346.9 280.8,342.6C277.8,338.3 274.5,334.0 271.9,328.7C269.2,323.4 266.4,316.4 264.9,310.8C263.4,305.2 262.9,300.1 262.9,295.0C262.9,289.9 261.7,282.2 264.9,279.9C268.1,277.6 279.1,280.8 282.0,281.0Z" fill="#c4c4c4" class="o"/>
<path d="M258.0,276.0C257.4,278.3 255.1,285.0 254.5,290.0C253.9,295.0 253.8,300.7 254.5,306.0C255.2,311.3 256.9,316.8 259.0,322.0C261.1,327.2 264.0,332.4 267.0,337.0C270.0,341.6 273.5,345.8 277.0,349.5C280.5,353.2 283.5,355.9 288.0,359.0C292.5,362.1 301.3,366.5 304.0,368.0" fill="none" stroke="#606060" stroke-width="19" stroke-dasharray="1.1 1.9" opacity=".9" clip-path="url(#clTL)"/>
<path d="M260.9,273.9C259.2,275.4 253.5,279.4 251.0,282.9C248.5,286.4 247.0,291.1 246.0,294.8C245.0,298.5 244.8,301.1 245.0,304.8C245.2,308.5 245.7,312.4 247.0,317.0C248.3,321.6 250.7,328.1 253.0,332.7C255.3,337.3 257.7,340.6 261.0,344.6C264.3,348.6 268.8,353.3 272.8,356.6C276.8,359.9 280.2,361.6 284.8,364.6C289.4,367.6 298.1,372.9 300.7,374.5" fill="none" stroke="#666" stroke-width="3"/>
<path d="M264.9,279.9C264.6,282.4 262.9,289.9 262.9,295.0C262.9,300.1 263.4,305.2 264.9,310.8C266.4,316.4 269.2,323.4 271.9,328.7C274.5,334.0 277.8,338.3 280.8,342.6C283.8,346.9 285.8,351.6 289.8,354.6C293.8,357.6 302.2,359.6 304.7,360.6" fill="none" stroke="#8a8a8a" stroke-width="1"/>
<path d="M374.0,377.0C374.7,378.0 376.0,379.5 378.0,383.0C380.0,386.5 383.2,392.7 386.0,398.0C388.8,403.3 392.0,409.8 394.5,415.0C397.0,420.2 398.6,425.1 401.0,429.0C403.4,432.9 405.9,436.4 409.0,438.5C412.1,440.6 415.9,442.1 419.9,441.9C423.8,441.7 430.6,437.9 432.7,437.1L423.0,434.0C423.2,432.7 424.5,428.8 424.2,426.0C423.9,423.2 423.0,420.2 421.0,417.0C419.0,413.8 414.7,410.2 412.0,407.0C409.3,403.8 408.2,403.2 405.0,398.0C401.8,392.8 394.8,379.7 392.7,376.0Z" fill="#6a6a6a" class="o"/>
<path d="M385.0,380.0C386.3,382.5 390.3,389.7 393.0,395.0C395.7,400.3 398.5,407.0 401.0,412.0C403.5,417.0 405.7,421.5 408.0,425.0C410.3,428.5 412.7,431.2 415.0,433.0C417.3,434.8 420.8,435.5 422.0,436.0" fill="none" stroke="#cfcfcf" stroke-width="18" stroke-dasharray="1.7 1.8" opacity=".85" clip-path="url(#clR)"/>
<path d="M405.5,405.0C406.0,404.2 410.4,408.6 413.0,411.0C415.6,413.4 419.2,416.7 421.0,419.5C422.8,422.3 423.8,425.8 424.0,428.0C424.2,430.2 423.7,433.0 422.5,433.0C421.3,433.0 419.1,430.8 417.0,428.0C414.9,425.2 411.9,419.8 410.0,416.0C408.1,412.2 405.0,405.8 405.5,405.0Z" fill="#fff" stroke="#555" stroke-width=".8"/>
<path d="M324.0,518.0C323.8,519.9 323.3,524.4 322.8,529.5C322.3,534.6 321.1,542.9 321.2,548.7C321.3,554.6 322.0,560.1 323.6,564.6C325.2,569.1 327.7,573.0 330.8,575.8C333.9,578.6 338.3,580.7 342.0,581.4C345.7,582.1 349.8,580.9 353.1,579.8C356.4,578.6 360.5,575.4 362.0,574.5L355.0,571.0C354.4,570.7 353.7,571.5 351.5,569.4C349.3,567.3 344.1,562.7 342.0,558.2C339.9,553.7 339.2,547.8 338.8,542.3C338.4,536.8 339.3,529.0 339.6,525.0C339.9,521.0 340.4,519.2 340.5,518.0Z" fill="#707070" class="o"/>
<path d="M332.0,518.0C331.8,520.3 330.8,527.0 330.5,532.0C330.2,537.0 329.7,543.2 330.0,548.0C330.3,552.8 331.0,557.2 332.5,561.0C334.0,564.8 336.6,568.6 339.0,571.0C341.4,573.4 344.2,575.0 347.0,575.5C349.8,576.0 354.5,574.2 356.0,574.0" fill="none" stroke="#c6c6c6" stroke-width="19" stroke-dasharray="1.7 1.8" opacity=".8" clip-path="url(#clB)"/>
<path d="M340.5,515.0C340.4,516.7 339.9,520.5 339.6,525.0C339.3,529.5 338.4,536.8 338.8,542.3C339.2,547.8 339.9,553.7 342.0,558.2C344.1,562.7 349.0,567.1 351.5,569.4C354.0,571.7 356.1,571.6 357.0,572.0" fill="none" stroke="#787878" stroke-width="5" clip-path="url(#clB)"/>
<path d="M324.0,518.0C323.8,519.9 323.3,524.4 322.8,529.5C322.3,534.6 321.1,542.9 321.2,548.7C321.3,554.6 322.0,560.1 323.6,564.6C325.2,569.1 327.7,573.0 330.8,575.8C333.9,578.6 338.3,580.7 342.0,581.4C345.7,582.1 349.8,580.9 353.1,579.8C356.4,578.6 360.5,575.4 362.0,574.5" fill="none" class="o" stroke-width="1.6"/>
<path d="M340.5,518.0C340.4,519.2 339.9,521.0 339.6,525.0C339.3,529.0 338.4,536.8 338.8,542.3C339.2,547.8 339.9,553.7 342.0,558.2C344.1,562.7 349.3,567.3 351.5,569.4C353.7,571.5 354.4,570.7 355.0,571.0" fill="none" class="o" stroke-width="1"/>
<path d="M302.0,359.5C302.4,359.7 301.6,359.1 304.7,360.6C307.8,362.1 315.7,365.5 320.7,368.5C325.7,371.5 331.0,374.5 334.6,378.5C338.2,382.5 340.8,387.2 342.6,392.5C344.4,397.8 344.9,402.5 345.5,410.4C346.1,418.3 345.9,429.7 346.0,440.0C346.1,450.3 346.5,461.4 346.0,472.0C345.5,482.6 343.7,495.9 342.8,503.9C341.9,511.9 340.9,517.3 340.5,520.0L324.0,520.0C324.3,517.3 325.1,511.9 326.0,503.9C326.9,495.9 328.6,482.6 329.2,472.0C329.8,461.4 329.5,449.6 329.5,440.0C329.5,430.4 330.0,421.3 329.2,414.4C328.4,407.5 327.0,403.4 324.6,398.4C322.2,393.4 318.7,388.5 314.7,384.5C310.7,380.5 303.5,376.4 300.7,374.5C297.9,372.6 298.4,373.2 298.0,373.0Z" fill="url(#gLeftS)" class="o"/>
<path d="M298.0,373.0C298.4,373.2 297.9,372.6 300.7,374.5C303.5,376.4 310.7,380.5 314.7,384.5C318.7,388.5 322.2,393.4 324.6,398.4C327.0,403.4 328.4,407.5 329.2,414.4C330.0,421.3 329.5,430.4 329.5,440.0C329.5,449.6 329.8,461.4 329.2,472.0C328.6,482.6 326.9,495.9 326.0,503.9C325.1,511.9 324.3,517.3 324.0,520.0" fill="none" stroke="#606060" stroke-width="1.8"/>
<path d="M375.0,377.0C373.5,377.4 369.0,378.1 366.0,379.5C363.0,380.9 359.2,383.1 357.0,385.5C354.8,387.9 353.2,391.1 352.5,394.0C351.8,396.9 352.1,398.8 353.0,403.0C353.9,407.2 355.5,413.0 357.6,419.5C359.7,426.0 363.2,435.5 365.6,441.9C368.0,448.3 369.6,452.8 372.0,457.8C374.4,462.8 378.9,469.6 380.3,472.0L394.0,468.8C394.2,467.5 395.5,464.4 395.0,461.0C394.5,457.6 393.4,454.2 391.1,448.3C388.9,442.4 384.7,432.8 381.5,425.9C378.3,419.0 374.2,412.0 372.0,406.7C369.8,401.4 368.3,397.1 368.0,393.9C367.7,390.7 368.9,388.9 370.4,387.5C371.9,386.1 375.9,385.8 377.0,385.5Z" fill="url(#gV1)" class="o"/>
<path d="M375.0,377.0C373.5,377.4 369.0,378.1 366.0,379.5C363.0,380.9 359.2,383.1 357.0,385.5C354.8,387.9 353.2,391.1 352.5,394.0C351.8,396.9 352.1,398.8 353.0,403.0C353.9,407.2 355.5,413.0 357.6,419.5C359.7,426.0 363.2,435.5 365.6,441.9C368.0,448.3 369.6,452.8 372.0,457.8C374.4,462.8 378.9,469.6 380.3,472.0" fill="none" stroke="#868686" stroke-width="5.5" clip-path="url(#clV)"/>
<path d="M375.0,377.0C373.5,377.4 369.0,378.1 366.0,379.5C363.0,380.9 359.2,383.1 357.0,385.5C354.8,387.9 353.2,391.1 352.5,394.0C351.8,396.9 352.1,398.8 353.0,403.0C353.9,407.2 355.5,413.0 357.6,419.5C359.7,426.0 363.2,435.5 365.6,441.9C368.0,448.3 369.6,452.8 372.0,457.8C374.4,462.8 378.9,469.6 380.3,472.0L394.0,468.8C394.2,467.5 395.5,464.4 395.0,461.0C394.5,457.6 393.4,454.2 391.1,448.3C388.9,442.4 384.7,432.8 381.5,425.9C378.3,419.0 374.2,412.0 372.0,406.7C369.8,401.4 368.3,397.1 368.0,393.9C367.7,390.7 368.9,388.9 370.4,387.5C371.9,386.1 375.9,385.8 377.0,385.5Z" fill="none" class="o"/>
<path d="M380.3,472.0C379.2,477.3 376.6,493.2 373.9,503.9C371.2,514.5 367.6,525.5 364.3,535.9C361.0,546.3 355.9,560.3 353.9,566.2C351.8,572.1 352.3,570.6 352.0,571.5L363.0,574.5C364.0,572.9 366.5,571.0 369.1,564.6C371.7,558.2 375.5,546.0 378.7,535.9C381.9,525.8 385.8,515.1 388.3,503.9C390.9,492.7 393.1,474.6 394.0,468.8Z" fill="url(#gV2)" class="o"/>
<path d="M380.3,472.0C379.2,477.3 376.6,493.2 373.9,503.9C371.2,514.5 367.6,525.5 364.3,535.9C361.0,546.3 355.9,560.3 353.9,566.2C351.8,572.1 352.3,570.6 352.0,571.5" fill="none" stroke="#6a6a6a" stroke-width="2.4"/>
<path d="M380.3,472 L394,468.8" stroke="#777" stroke-width=".8"/>
<path d="M248.5,287.0C249.2,285.9 250.4,282.7 252.5,280.5C254.6,278.3 257.5,275.9 260.9,273.9C264.3,271.9 269.1,269.5 272.8,268.5C276.5,267.5 279.5,267.6 282.8,268.0C286.1,268.4 289.5,269.2 292.8,271.0C296.1,272.8 299.1,275.6 302.7,278.9C306.3,282.2 310.0,286.2 314.7,290.9C319.4,295.5 325.3,301.5 330.6,306.8C335.9,312.1 341.0,317.1 346.6,322.7C352.2,328.3 357.4,333.9 364.5,340.7C371.6,347.5 380.6,356.3 389.0,363.6C397.4,370.9 408.4,378.7 415.1,384.3C421.9,389.9 425.8,393.1 429.5,397.1C433.2,401.1 435.6,404.6 437.5,408.3C439.4,412.0 440.4,415.8 440.7,419.5C441.0,423.2 440.4,427.8 439.1,430.7C437.8,433.6 435.7,435.2 432.7,437.1C429.7,439.0 422.9,441.1 421.0,441.9L421.0,441.9C421.6,440.6 423.8,436.8 424.4,433.9C425.0,431.0 425.4,427.5 424.7,424.3C423.9,421.1 422.6,418.2 419.9,414.7C417.2,411.2 413.2,407.5 408.7,403.5C404.2,399.5 398.4,394.2 392.7,390.7C387.0,387.2 379.1,385.5 374.4,382.5C369.7,379.5 369.1,377.1 364.5,372.5C359.9,367.9 352.2,360.2 346.6,354.6C341.0,349.0 335.9,344.4 330.6,338.7C325.3,333.0 320.0,326.7 314.7,320.7C309.4,314.7 303.3,307.9 298.7,302.8C294.1,297.7 290.8,293.2 286.8,289.9C282.8,286.6 278.8,284.6 274.8,282.9C270.9,281.2 265.1,280.3 263.1,279.8Z" fill="url(#gTop)" class="o"/>
<path d="M274.8,282.9C276.8,284.1 282.8,286.6 286.8,289.9C290.8,293.2 294.1,297.7 298.7,302.8C303.3,307.9 309.4,314.7 314.7,320.7C320.0,326.7 325.3,333.0 330.6,338.7C335.9,344.4 341.0,349.0 346.6,354.6C352.2,360.2 359.9,367.9 364.5,372.5C369.1,377.1 369.7,379.5 374.4,382.5C379.1,385.5 387.0,387.2 392.7,390.7C398.4,394.2 404.2,399.5 408.7,403.5C413.2,407.5 417.2,411.2 419.9,414.7C422.6,418.2 423.9,421.1 424.7,424.3C425.4,427.5 425.0,431.0 424.4,433.9C423.8,436.8 421.6,440.6 421.0,441.9" fill="none" stroke="#9e9e9e" stroke-width="7" clip-path="url(#clT)"/>
<path d="M248.5,287.0C249.2,285.9 250.4,282.7 252.5,280.5C254.6,278.3 257.5,275.9 260.9,273.9C264.3,271.9 269.1,269.5 272.8,268.5C276.5,267.5 279.5,267.6 282.8,268.0C286.1,268.4 289.5,269.2 292.8,271.0C296.1,272.8 299.1,275.6 302.7,278.9C306.3,282.2 310.0,286.2 314.7,290.9C319.4,295.5 325.3,301.5 330.6,306.8C335.9,312.1 341.0,317.1 346.6,322.7C352.2,328.3 357.4,333.9 364.5,340.7C371.6,347.5 380.6,356.3 389.0,363.6C397.4,370.9 408.4,378.7 415.1,384.3C421.9,389.9 425.8,393.1 429.5,397.1C433.2,401.1 435.6,404.6 437.5,408.3C439.4,412.0 440.4,415.8 440.7,419.5C441.0,423.2 440.4,427.8 439.1,430.7C437.8,433.6 435.7,435.2 432.7,437.1C429.7,439.0 422.9,441.1 421.0,441.9L421.0,441.9C421.6,440.6 423.8,436.8 424.4,433.9C425.0,431.0 425.4,427.5 424.7,424.3C423.9,421.1 422.6,418.2 419.9,414.7C417.2,411.2 413.2,407.5 408.7,403.5C404.2,399.5 398.4,394.2 392.7,390.7C387.0,387.2 379.1,385.5 374.4,382.5C369.7,379.5 369.1,377.1 364.5,372.5C359.9,367.9 352.2,360.2 346.6,354.6C341.0,349.0 335.9,344.4 330.6,338.7C325.3,333.0 320.0,326.7 314.7,320.7C309.4,314.7 303.3,307.9 298.7,302.8C294.1,297.7 290.8,293.2 286.8,289.9C282.8,286.6 278.8,284.6 274.8,282.9C270.9,281.2 265.1,280.3 263.1,279.8Z" fill="none" class="o"/>
<path d="M248.5,287.0C249.2,285.9 250.4,282.7 252.5,280.5C254.6,278.3 257.5,275.9 260.9,273.9C264.3,271.9 269.1,269.5 272.8,268.5C276.5,267.5 279.5,267.6 282.8,268.0C286.1,268.4 289.5,269.2 292.8,271.0C296.1,272.8 299.1,275.6 302.7,278.9C306.3,282.2 310.0,286.2 314.7,290.9C319.4,295.5 325.3,301.5 330.6,306.8C335.9,312.1 341.0,317.1 346.6,322.7C352.2,328.3 357.4,333.9 364.5,340.7C371.6,347.5 380.6,356.3 389.0,363.6C397.4,370.9 408.4,378.7 415.1,384.3C421.9,389.9 425.8,393.1 429.5,397.1C433.2,401.1 435.6,404.6 437.5,408.3C439.4,412.0 440.4,415.8 440.7,419.5C441.0,423.2 440.4,427.8 439.1,430.7C437.8,433.6 435.7,435.2 432.7,437.1C429.7,439.0 422.9,441.1 421.0,441.9" fill="none" stroke="#4a4a4a" stroke-width="1.6"/>
<g><ellipse cx="389.3" cy="204.8" rx="28.7" ry="40.7" transform="rotate(-17 389.3 204.8)" fill="#c6c6c6"/><ellipse cx="386.9" cy="205.6" rx="28.8" ry="40.9" transform="rotate(-17 386.9 205.6)" fill="#c6c6c6"/><ellipse cx="384.6" cy="206.4" rx="28.9" ry="41.1" transform="rotate(-17 384.6 206.4)" fill="#c6c6c6"/><ellipse cx="382.2" cy="207.2" rx="29.1" ry="41.3" transform="rotate(-17 382.2 207.2)" fill="#c6c6c6"/><ellipse cx="379.8" cy="208.1" rx="29.2" ry="41.5" transform="rotate(-17 379.8 208.1)" fill="#c6c6c6"/><ellipse cx="377.4" cy="208.9" rx="29.3" ry="41.6" transform="rotate(-17 377.4 208.9)" fill="#c6c6c6"/><ellipse cx="375.1" cy="209.7" rx="29.4" ry="41.8" transform="rotate(-17 375.1 209.7)" fill="#c6c6c6"/><ellipse cx="372.7" cy="210.5" rx="29.6" ry="42.0" transform="rotate(-17 372.7 210.5)" fill="#c6c6c6"/><ellipse cx="370.3" cy="211.3" rx="29.7" ry="42.2" transform="rotate(-17 370.3 211.3)" fill="#c6c6c6"/><path d="M341.8,188.1 l19.0,-6.5" stroke="#8a8a8a" stroke-width="1.7"/><path d="M342.1,189.7 l19.0,-6.5" stroke="#e0e0e0" stroke-width=".9"/><path d="M343.6,183.8 l19.0,-6.5" stroke="#8a8a8a" stroke-width="1.7"/><path d="M343.9,185.4 l19.0,-6.5" stroke="#e0e0e0" stroke-width=".9"/><path d="M345.9,179.9 l19.0,-6.5" stroke="#8a8a8a" stroke-width="1.7"/><path d="M346.2,181.5 l19.0,-6.5" stroke="#e0e0e0" stroke-width=".9"/><path d="M348.7,176.7 l19.0,-6.5" stroke="#8a8a8a" stroke-width="1.7"/><path d="M349.0,178.3 l19.0,-6.5" stroke="#e0e0e0" stroke-width=".9"/><path d="M351.8,174.0 l19.0,-6.5" stroke="#8a8a8a" stroke-width="1.7"/><path d="M352.1,175.6 l19.0,-6.5" stroke="#e0e0e0" stroke-width=".9"/><path d="M355.2,172.0 l19.0,-6.5" stroke="#8a8a8a" stroke-width="1.7"/><path d="M355.5,173.6 l19.0,-6.5" stroke="#e0e0e0" stroke-width=".9"/><path d="M359.0,170.7 l19.0,-6.5" stroke="#8a8a8a" stroke-width="1.7"/><path d="M359.3,172.3 l19.0,-6.5" stroke="#e0e0e0" stroke-width=".9"/><path d="M362.9,170.1 l19.0,-6.5" stroke="#8a8a8a" stroke-width="1.7"/><path d="M363.2,171.7 l19.0,-6.5" stroke="#e0e0e0" stroke-width=".9"/><path d="M366.9,170.2 l19.0,-6.5" stroke="#8a8a8a" stroke-width="1.7"/><path d="M367.2,171.8 l19.0,-6.5" stroke="#e0e0e0" stroke-width=".9"/><path d="M371.0,171.0 l19.0,-6.5" stroke="#8a8a8a" stroke-width="1.7"/><path d="M371.3,172.6 l19.0,-6.5" stroke="#e0e0e0" stroke-width=".9"/><path d="M375.1,172.6 l19.0,-6.5" stroke="#8a8a8a" stroke-width="1.7"/><path d="M375.4,174.2 l19.0,-6.5" stroke="#e0e0e0" stroke-width=".9"/><path d="M379.1,174.8 l19.0,-6.5" stroke="#8a8a8a" stroke-width="1.7"/><path d="M379.4,176.4 l19.0,-6.5" stroke="#e0e0e0" stroke-width=".9"/><path d="M383.0,177.7 l19.0,-6.5" stroke="#8a8a8a" stroke-width="1.7"/><path d="M383.3,179.3 l19.0,-6.5" stroke="#e0e0e0" stroke-width=".9"/><path d="M386.6,181.1 l19.0,-6.5" stroke="#8a8a8a" stroke-width="1.7"/><path d="M386.9,182.7 l19.0,-6.5" stroke="#e0e0e0" stroke-width=".9"/><path d="M389.9,185.1 l19.0,-6.5" stroke="#8a8a8a" stroke-width="1.7"/><path d="M390.2,186.7 l19.0,-6.5" stroke="#e0e0e0" stroke-width=".9"/><path d="M392.9,189.6 l19.0,-6.5" stroke="#8a8a8a" stroke-width="1.7"/><path d="M393.2,191.2 l19.0,-6.5" stroke="#e0e0e0" stroke-width=".9"/><path d="M395.5,194.4 l19.0,-6.5" stroke="#8a8a8a" stroke-width="1.7"/><path d="M395.8,196.0 l19.0,-6.5" stroke="#e0e0e0" stroke-width=".9"/><path d="M397.7,199.5 l19.0,-6.5" stroke="#8a8a8a" stroke-width="1.7"/><path d="M398.0,201.1 l19.0,-6.5" stroke="#e0e0e0" stroke-width=".9"/><path d="M399.3,204.9 l19.0,-6.5" stroke="#8a8a8a" stroke-width="1.7"/><path d="M399.6,206.5 l19.0,-6.5" stroke="#e0e0e0" stroke-width=".9"/><path d="M400.5,210.3 l19.0,-6.5" stroke="#8a8a8a" stroke-width="1.7"/><path d="M400.8,211.9 l19.0,-6.5" stroke="#e0e0e0" stroke-width=".9"/><path d="M401.1,215.8 l19.0,-6.5" stroke="#8a8a8a" stroke-width="1.7"/><path d="M401.4,217.4 l19.0,-6.5" stroke="#e0e0e0" stroke-width=".9"/><path d="M401.2,221.2 l19.0,-6.5" stroke="#8a8a8a" stroke-width="1.7"/><path d="M401.5,222.8 l19.0,-6.5" stroke="#e0e0e0" stroke-width=".9"/><path d="M400.8,226.4 l19.0,-6.5" stroke="#8a8a8a" stroke-width="1.7"/><path d="M401.1,228.0 l19.0,-6.5" stroke="#e0e0e0" stroke-width=".9"/><path d="M399.8,231.3 l19.0,-6.5" stroke="#8a8a8a" stroke-width="1.7"/><path d="M400.1,232.9 l19.0,-6.5" stroke="#e0e0e0" stroke-width=".9"/><path d="M398.3,235.9 l19.0,-6.5" stroke="#8a8a8a" stroke-width="1.7"/><path d="M398.6,237.5 l19.0,-6.5" stroke="#e0e0e0" stroke-width=".9"/><path d="M396.3,240.1 l19.0,-6.5" stroke="#8a8a8a" stroke-width="1.7"/><path d="M396.6,241.7 l19.0,-6.5" stroke="#e0e0e0" stroke-width=".9"/><ellipse cx="389.3" cy="204.8" rx="29.1" ry="41.0" transform="rotate(-17 389.3 204.8)" fill="none" stroke="#5a5a5a" stroke-width="1.3" stroke-dasharray="2.8 1.6"/><ellipse cx="370.3" cy="211.3" rx="29.2" ry="41.7" transform="rotate(-17 370.3 211.3)" fill="#6e6e6e" stroke="#4a4a4a" stroke-width="3" stroke-dasharray="2.9 1.7"/><ellipse cx="370.3" cy="211.3" rx="26.5" ry="37.6" transform="rotate(-17 370.3 211.3)" fill="#868686" stroke="#5a5a5a" stroke-width=".9"/><ellipse cx="370.9" cy="212.3" rx="22.7" ry="32.2" transform="rotate(-17 370.9 212.3)" fill="#707070" stroke="#9a9a9a" stroke-width=".7"/><ellipse cx="390.9" cy="214.2" rx="4.2" ry="5.8" transform="rotate(-17 390.9 214.2)" fill="#484848" stroke="#a2a2a2" stroke-width="1"/><ellipse cx="392.1" cy="215.2" rx="2" ry="2.8" fill="#a8a8a8"/><ellipse cx="388.3" cy="231.3" rx="4.2" ry="5.8" transform="rotate(-17 388.3 231.3)" fill="#484848" stroke="#a2a2a2" stroke-width="1"/><ellipse cx="389.5" cy="232.3" rx="2" ry="2.8" fill="#a8a8a8"/><ellipse cx="377.6" cy="239.7" rx="4.2" ry="5.8" transform="rotate(-17 377.6 239.7)" fill="#484848" stroke="#a2a2a2" stroke-width="1"/><ellipse cx="378.8" cy="240.7" rx="2" ry="2.8" fill="#a8a8a8"/><ellipse cx="363.8" cy="235.5" rx="4.2" ry="5.8" transform="rotate(-17 363.8 235.5)" fill="#484848" stroke="#a2a2a2" stroke-width="1"/><ellipse cx="365.0" cy="236.5" rx="2" ry="2.8" fill="#a8a8a8"/><ellipse cx="353.5" cy="220.7" rx="4.2" ry="5.8" transform="rotate(-17 353.5 220.7)" fill="#484848" stroke="#a2a2a2" stroke-width="1"/><ellipse cx="354.7" cy="221.7" rx="2" ry="2.8" fill="#a8a8a8"/><ellipse cx="351.4" cy="202.2" rx="4.2" ry="5.8" transform="rotate(-17 351.4 202.2)" fill="#484848" stroke="#a2a2a2" stroke-width="1"/><ellipse cx="352.6" cy="203.2" rx="2" ry="2.8" fill="#a8a8a8"/><ellipse cx="358.5" cy="188.7" rx="4.2" ry="5.8" transform="rotate(-17 358.5 188.7)" fill="#484848" stroke="#a2a2a2" stroke-width="1"/><ellipse cx="359.7" cy="189.7" rx="2" ry="2.8" fill="#a8a8a8"/><ellipse cx="371.5" cy="186.4" rx="4.2" ry="5.8" transform="rotate(-17 371.5 186.4)" fill="#484848" stroke="#a2a2a2" stroke-width="1"/><ellipse cx="372.7" cy="187.4" rx="2" ry="2.8" fill="#a8a8a8"/><ellipse cx="384.3" cy="196.5" rx="4.2" ry="5.8" transform="rotate(-17 384.3 196.5)" fill="#484848" stroke="#a2a2a2" stroke-width="1"/><ellipse cx="385.5" cy="197.5" rx="2" ry="2.8" fill="#a8a8a8"/><path d="M357,188 l12,-4 l9,6 l-3,7 l-14,-2z" fill="#a2a2a2" opacity=".8"/><ellipse cx="371.0" cy="214.5" rx="10" ry="14.5" transform="rotate(-17 371.0 214.5)" fill="#7a7a7a" stroke="#505050" stroke-width="1"/><ellipse cx="371.5" cy="215.0" rx="6" ry="9" transform="rotate(-17 371.5 215.0)" fill="#e2e2e2" stroke="#666" stroke-width=".8"/><ellipse cx="370.2" cy="216.0" rx="2.8" ry="4.6" transform="rotate(-17 370.2 216.0)" fill="#8c8c8c"/></g>
<g><ellipse cx="476.8" cy="385.3" rx="13.5" ry="19.3" transform="rotate(-20 476.8 385.3)" fill="#b4b4b4"/><ellipse cx="475.1" cy="385.9" rx="13.5" ry="19.3" transform="rotate(-20 475.1 385.9)" fill="#b4b4b4"/><ellipse cx="473.3" cy="386.6" rx="13.5" ry="19.3" transform="rotate(-20 473.3 386.6)" fill="#b4b4b4"/><ellipse cx="471.6" cy="387.2" rx="13.5" ry="19.3" transform="rotate(-20 471.6 387.2)" fill="#b4b4b4"/><ellipse cx="469.8" cy="387.8" rx="13.5" ry="19.3" transform="rotate(-20 469.8 387.8)" fill="#b4b4b4"/><ellipse cx="468.1" cy="388.4" rx="13.5" ry="19.3" transform="rotate(-20 468.1 388.4)" fill="#b4b4b4"/><ellipse cx="466.3" cy="389.1" rx="13.5" ry="19.3" transform="rotate(-20 466.3 389.1)" fill="#b4b4b4"/><ellipse cx="464.6" cy="389.7" rx="13.5" ry="19.3" transform="rotate(-20 464.6 389.7)" fill="#b4b4b4"/><ellipse cx="462.8" cy="390.3" rx="13.5" ry="19.3" transform="rotate(-20 462.8 390.3)" fill="#b4b4b4"/><path d="M448.8,382.2 l14.0,-5.0" stroke="#6a6a6a" stroke-width="1.5"/><path d="M449.6,379.4 l14.0,-5.0" stroke="#6a6a6a" stroke-width="1.5"/><path d="M450.7,376.9 l14.0,-5.0" stroke="#6a6a6a" stroke-width="1.5"/><path d="M452.3,374.8 l14.0,-5.0" stroke="#6a6a6a" stroke-width="1.5"/><path d="M454.1,373.2 l14.0,-5.0" stroke="#6a6a6a" stroke-width="1.5"/><path d="M456.2,372.2 l14.0,-5.0" stroke="#6a6a6a" stroke-width="1.5"/><path d="M458.5,371.6 l14.0,-5.0" stroke="#6a6a6a" stroke-width="1.5"/><path d="M460.9,371.7 l14.0,-5.0" stroke="#6a6a6a" stroke-width="1.5"/><path d="M463.4,372.3 l14.0,-5.0" stroke="#6a6a6a" stroke-width="1.5"/><path d="M465.9,373.4 l14.0,-5.0" stroke="#6a6a6a" stroke-width="1.5"/><path d="M468.3,375.1 l14.0,-5.0" stroke="#6a6a6a" stroke-width="1.5"/><path d="M470.5,377.2 l14.0,-5.0" stroke="#6a6a6a" stroke-width="1.5"/><path d="M472.5,379.8 l14.0,-5.0" stroke="#6a6a6a" stroke-width="1.5"/><path d="M474.1,382.6 l14.0,-5.0" stroke="#6a6a6a" stroke-width="1.5"/><path d="M475.5,385.7 l14.0,-5.0" stroke="#6a6a6a" stroke-width="1.5"/><path d="M476.4,388.9 l14.0,-5.0" stroke="#6a6a6a" stroke-width="1.5"/><path d="M477.0,392.2 l14.0,-5.0" stroke="#6a6a6a" stroke-width="1.5"/><path d="M477.1,395.4 l14.0,-5.0" stroke="#6a6a6a" stroke-width="1.5"/><path d="M476.8,398.4 l14.0,-5.0" stroke="#6a6a6a" stroke-width="1.5"/><path d="M476.0,401.2 l14.0,-5.0" stroke="#6a6a6a" stroke-width="1.5"/><ellipse cx="476.8" cy="385.3" rx="13.8" ry="19.6" transform="rotate(-20 476.8 385.3)" fill="none" stroke="#4a4a4a" stroke-width="1.2" stroke-dasharray="2.2 1.3"/><ellipse cx="462.8" cy="390.3" rx="13.5" ry="19.3" transform="rotate(-20 462.8 390.3)" fill="#5c5c5c" stroke="#3c3c3c" stroke-width="2.2" stroke-dasharray="2.3 1.3"/><ellipse cx="463.3" cy="390.3" rx="9.9" ry="13.9" transform="rotate(-20 463.3 390.3)" fill="#747474" stroke="#4c4c4c" stroke-width="1"/><ellipse cx="464.3" cy="390.8" rx="5.4" ry="8.4" transform="rotate(-20 464.3 390.8)" fill="#484848" stroke="#8a8a8a" stroke-width=".8"/><path d="M464.0,388.3 l2.4,-1.2 l1.4,5.4 l-2.4,1.2z" fill="#d8d8d8"/><path d="M474.5,382 l9,-3 l1.5,7 l-9,3.2z M476.5,392 l9,-3 l1,5 l-9,3z" fill="#e6e6e6" opacity=".9"/></g>
<path d="M404.5,303.8 L424.3,289.3 C425.4,289.2 428.9,287.7 431.0,288.6C433.1,289.5 435.4,292.0 436.6,294.5C437.8,297.0 438.4,301.0 438.0,303.5C437.6,306.0 435.1,308.5 434.5,309.5 L414.8,322.3 Z" fill="url(#gCyl)" stroke="#555" stroke-width="1"/>
<ellipse cx="409.4" cy="312.3" rx="7.3" ry="10" transform="rotate(-25 409.4 312.3)" fill="#cfcfcf" stroke="#4f4f4f" stroke-width="1.1"/>
<ellipse cx="409.8" cy="312.8" rx="4.9" ry="7.2" transform="rotate(-25 409.8 312.8)" fill="#6a6a6a" stroke="#4a4a4a" stroke-width=".8"/>
<path d="M411,308 q3,3 2.5,9" stroke="#b5b5b5" stroke-width="1.3" fill="none"/>
<path d="M436,449 L449.5,444.8 C451.1,445.2 456.2,445.2 459.0,447.0C461.8,448.8 464.3,452.2 466.0,455.5C467.7,458.8 468.9,463.3 469.0,467.0C469.1,470.7 468.0,474.8 466.5,477.5C465.0,480.2 461.1,482.5 460.0,483.5 L450,484.5 Z" fill="#cdcdcd" stroke="#444" stroke-width="1.1"/>
<path d="M450.0,447.0C451.0,446.8 455.6,447.7 458.0,449.5C460.4,451.3 463.1,454.9 464.5,458.0C465.9,461.1 466.8,465.7 466.5,468.0C466.2,470.3 464.2,473.5 463.0,472.0C461.8,470.5 460.8,462.5 459.0,459.0C457.2,455.5 453.5,453.0 452.0,451.0C450.5,449.0 449.0,447.2 450.0,447.0Z" fill="#e6e6e6" stroke="none"/>
<ellipse cx="443.6" cy="466.2" rx="11.2" ry="18.3" transform="rotate(-22 443.6 466.2)" fill="#7e7e7e" stroke="#4a4a4a" stroke-width="1.3"/>
<ellipse cx="444.4" cy="467" rx="8" ry="13.8" transform="rotate(-22 444.4 467)" fill="#9c9c9c" stroke="#5a5a5a" stroke-width=".9"/>
<ellipse cx="445" cy="467.6" rx="5.8" ry="10.2" transform="rotate(-22 445 467.6)" fill="#cfcfcf" stroke="#6a6a6a" stroke-width=".8"/>
<ellipse cx="446" cy="468.5" rx="3" ry="5.5" transform="rotate(-22 446 468.5)" fill="#a6a6a6"/>
<path d="M275,395 L292,390.2 C293.7,390.4 299.3,390.6 302.0,391.5C304.7,392.4 306.2,394.3 308.0,395.5C309.8,396.7 311.6,396.4 313.0,398.5C314.4,400.6 315.8,404.6 316.5,408.0C317.2,411.4 317.7,415.6 317.3,419.0C316.9,422.4 315.9,425.8 314.0,428.5C312.1,431.2 307.3,433.9 306.0,435.0 L293,441.5 Z" fill="url(#gCyl)" stroke="#555" stroke-width="1"/>
<path d="M307.0,395.0 L311.5,393.0 L315.5,398.0 L313.0,401.0Z" fill="#9a9a9a" stroke="#4a4a4a" stroke-width=".8"/>
<ellipse cx="283.8" cy="419.2" rx="15.2" ry="23.2" transform="rotate(-20 283.8 419.2)" fill="#8c8c8c" stroke="#3c3c3c" stroke-width="1.4"/>
<ellipse cx="284.4" cy="419.6" rx="12.4" ry="19.6" transform="rotate(-20 284.4 419.6)" fill="#b2b2b2" stroke="#4a4a4a" stroke-width="1"/>
<ellipse cx="285" cy="420" rx="10" ry="16.4" transform="rotate(-20 285 420)" fill="#6d6d6d" stroke="#4a4a4a" stroke-width=".8"/>
<path d="M281.0,409.0C282.2,407.0 285.5,406.8 287.0,408.0C288.5,409.2 288.5,413.8 290.0,416.0C291.5,418.2 295.3,419.2 296.0,421.0C296.7,422.8 295.5,426.2 294.0,427.0C292.5,427.8 288.7,425.2 287.0,426.0C285.3,426.8 285.3,431.3 284.0,432.0C282.7,432.7 279.7,432.0 279.0,430.0C278.3,428.0 279.7,423.5 280.0,420.0C280.3,416.5 279.8,411.0 281.0,409.0Z" fill="#c4c4c4" stroke="#555" stroke-width=".7"/>
<ellipse cx="285.5" cy="420.5" rx="3.4" ry="4.6" fill="#e2e2e2" stroke="#555" stroke-width=".7"/>
<path d="M263.5,548.8C263.2,546.4 264.4,547.6 265.5,547.2C266.6,546.8 268.4,546.0 269.8,546.2C271.2,546.4 272.8,547.3 273.8,548.5C274.8,549.7 275.7,551.7 275.8,553.3C275.9,554.9 275.1,557.0 274.2,558.1C273.3,559.2 271.8,559.2 270.6,559.8C269.4,560.4 268.2,563.3 267.0,561.5C265.8,559.7 263.8,551.2 263.5,548.8Z" fill="url(#gCyl)" stroke="#555" stroke-width="1"/>
<path d="M240.5,556 L257.1,547.5 C258.2,547.6 261.7,547.7 263.5,548.3C265.3,548.9 266.7,549.8 267.8,551.2C268.9,552.7 269.8,555.0 270.0,557.0C270.2,559.0 269.9,561.1 269.0,563.0C268.1,564.9 265.2,567.7 264.5,568.6 L250,576 Z" fill="url(#gCyl)" stroke="#555" stroke-width="1"/>
<path d="M265.5,549.5 q4,5 1.2,13" stroke="#7a7a7a" stroke-width=".8" fill="none"/>
<ellipse cx="245.4" cy="565.8" rx="7" ry="10.4" transform="rotate(-25 245.4 565.8)" fill="#858585" stroke="#4a4a4a" stroke-width="1.1"/>
<ellipse cx="245.9" cy="566.3" rx="4.8" ry="7.6" transform="rotate(-25 245.9 566.3)" fill="#a6a6a6" stroke="#5f5f5f" stroke-width=".8"/>
<ellipse cx="246.6" cy="567" rx="2.2" ry="3.6" transform="rotate(-25 246.6 567)" fill="#dcdcdc"/>
<g transform="translate(374.3 330.8) rotate(-28.1)"><rect x="2" y="-3.4" width="20.9" height="6.8" rx="1.8" fill="url(#gBolt)" stroke="#444" stroke-width=".8"/><path d="M9.0,-3.4 L9.8,3.4" stroke="#4a4a4a" stroke-width=".7"/><path d="M10.7,-3.4 L11.5,3.4" stroke="#4a4a4a" stroke-width=".7"/><path d="M12.4,-3.4 L13.2,3.4" stroke="#4a4a4a" stroke-width=".7"/><path d="M14.1,-3.4 L14.9,3.4" stroke="#4a4a4a" stroke-width=".7"/><path d="M15.8,-3.4 L16.6,3.4" stroke="#4a4a4a" stroke-width=".7"/><path d="M17.5,-3.4 L18.3,3.4" stroke="#4a4a4a" stroke-width=".7"/><path d="M19.2,-3.4 L20.0,3.4" stroke="#4a4a4a" stroke-width=".7"/><path d="M20.9,-3.4 L21.7,3.4" stroke="#4a4a4a" stroke-width=".7"/><ellipse cx="1.5" cy="0" rx="5.0" ry="8.6" fill="#6f6f6f" stroke="#3c3c3c" stroke-width=".9"/><ellipse cx="-1.5" cy="0" rx="4.8" ry="7.4" fill="url(#gHead)" stroke="#3c3c3c" stroke-width=".9"/><ellipse cx="-2.6" cy="0" rx="2.7" ry="4.4" fill="#8c8c8c" stroke="#4a4a4a" stroke-width=".6"/></g>
<g transform="translate(460.3 314.2) rotate(-27.5)"><rect x="2" y="-3.0" width="14.0" height="6.0" rx="1.8" fill="url(#gBolt)" stroke="#444" stroke-width=".8"/><path d="M9.0,-3.0 L9.8,3.0" stroke="#4a4a4a" stroke-width=".7"/><path d="M10.7,-3.0 L11.5,3.0" stroke="#4a4a4a" stroke-width=".7"/><path d="M12.4,-3.0 L13.2,3.0" stroke="#4a4a4a" stroke-width=".7"/><path d="M14.1,-3.0 L14.9,3.0" stroke="#4a4a4a" stroke-width=".7"/><ellipse cx="1.5" cy="0" rx="4.2" ry="7.3" fill="#6f6f6f" stroke="#3c3c3c" stroke-width=".9"/><ellipse cx="-1.5" cy="0" rx="4.1" ry="6.3" fill="url(#gHead)" stroke="#3c3c3c" stroke-width=".9"/><ellipse cx="-2.6" cy="0" rx="2.3" ry="3.7" fill="#8c8c8c" stroke="#4a4a4a" stroke-width=".6"/></g>
<g transform="translate(492.3 328.7) rotate(-31.0)"><rect x="2" y="-3.4" width="21.9" height="6.8" rx="1.8" fill="url(#gBolt)" stroke="#444" stroke-width=".8"/><path d="M9.0,-3.4 L9.8,3.4" stroke="#4a4a4a" stroke-width=".7"/><path d="M10.7,-3.4 L11.5,3.4" stroke="#4a4a4a" stroke-width=".7"/><path d="M12.4,-3.4 L13.2,3.4" stroke="#4a4a4a" stroke-width=".7"/><path d="M14.1,-3.4 L14.9,3.4" stroke="#4a4a4a" stroke-width=".7"/><path d="M15.8,-3.4 L16.6,3.4" stroke="#4a4a4a" stroke-width=".7"/><path d="M17.5,-3.4 L18.3,3.4" stroke="#4a4a4a" stroke-width=".7"/><path d="M19.2,-3.4 L20.0,3.4" stroke="#4a4a4a" stroke-width=".7"/><path d="M20.9,-3.4 L21.7,3.4" stroke="#4a4a4a" stroke-width=".7"/><path d="M22.6,-3.4 L23.4,3.4" stroke="#4a4a4a" stroke-width=".7"/><ellipse cx="1.5" cy="0" rx="5.0" ry="8.6" fill="#6f6f6f" stroke="#3c3c3c" stroke-width=".9"/><ellipse cx="-1.5" cy="0" rx="4.8" ry="7.4" fill="url(#gHead)" stroke="#3c3c3c" stroke-width=".9"/><ellipse cx="-2.6" cy="0" rx="2.7" ry="4.4" fill="#8c8c8c" stroke="#4a4a4a" stroke-width=".6"/></g>
<g transform="translate(406.3 491.0) rotate(-29.2)"><rect x="2" y="-3.5" width="24.7" height="7.0" rx="1.8" fill="url(#gBolt)" stroke="#444" stroke-width=".8"/><path d="M9.0,-3.5 L9.8,3.5" stroke="#4a4a4a" stroke-width=".7"/><path d="M10.7,-3.5 L11.5,3.5" stroke="#4a4a4a" stroke-width=".7"/><path d="M12.4,-3.5 L13.2,3.5" stroke="#4a4a4a" stroke-width=".7"/><path d="M14.1,-3.5 L14.9,3.5" stroke="#4a4a4a" stroke-width=".7"/><path d="M15.8,-3.5 L16.6,3.5" stroke="#4a4a4a" stroke-width=".7"/><path d="M17.5,-3.5 L18.3,3.5" stroke="#4a4a4a" stroke-width=".7"/><path d="M19.2,-3.5 L20.0,3.5" stroke="#4a4a4a" stroke-width=".7"/><path d="M20.9,-3.5 L21.7,3.5" stroke="#4a4a4a" stroke-width=".7"/><path d="M22.6,-3.5 L23.4,3.5" stroke="#4a4a4a" stroke-width=".7"/><path d="M24.3,-3.5 L25.1,3.5" stroke="#4a4a4a" stroke-width=".7"/><ellipse cx="1.5" cy="0" rx="5.1" ry="8.9" fill="#6f6f6f" stroke="#3c3c3c" stroke-width=".9"/><ellipse cx="-1.5" cy="0" rx="4.9" ry="7.5" fill="url(#gHead)" stroke="#3c3c3c" stroke-width=".9"/><ellipse cx="-2.6" cy="0" rx="2.8" ry="4.5" fill="#8c8c8c" stroke="#4a4a4a" stroke-width=".6"/></g>
<g transform="translate(205.8 867.4) rotate(-32.8)"><rect x="2" y="-3.4" width="23.5" height="6.8" rx="1.8" fill="url(#gBolt)" stroke="#444" stroke-width=".8"/><path d="M9.0,-3.4 L9.8,3.4" stroke="#4a4a4a" stroke-width=".7"/><path d="M10.7,-3.4 L11.5,3.4" stroke="#4a4a4a" stroke-width=".7"/><path d="M12.4,-3.4 L13.2,3.4" stroke="#4a4a4a" stroke-width=".7"/><path d="M14.1,-3.4 L14.9,3.4" stroke="#4a4a4a" stroke-width=".7"/><path d="M15.8,-3.4 L16.6,3.4" stroke="#4a4a4a" stroke-width=".7"/><path d="M17.5,-3.4 L18.3,3.4" stroke="#4a4a4a" stroke-width=".7"/><path d="M19.2,-3.4 L20.0,3.4" stroke="#4a4a4a" stroke-width=".7"/><path d="M20.9,-3.4 L21.7,3.4" stroke="#4a4a4a" stroke-width=".7"/><path d="M22.6,-3.4 L23.4,3.4" stroke="#4a4a4a" stroke-width=".7"/><path d="M24.3,-3.4 L25.1,3.4" stroke="#4a4a4a" stroke-width=".7"/><ellipse cx="1.5" cy="0" rx="5.0" ry="8.6" fill="#6f6f6f" stroke="#3c3c3c" stroke-width=".9"/><ellipse cx="-1.5" cy="0" rx="4.8" ry="7.4" fill="url(#gHead)" stroke="#3c3c3c" stroke-width=".9"/><ellipse cx="-2.6" cy="0" rx="2.7" ry="4.4" fill="#8c8c8c" stroke="#4a4a4a" stroke-width=".6"/></g>
<g transform="translate(394.5 352.2) rotate(-25.8)"><rect x="0" y="-3.5" width="38.9" height="7.0" rx="2.2" fill="url(#gBolt)" stroke="#3f3f3f" stroke-width=".9"/><path d="M1.5,-3.5 L2.3,3.5" stroke="#3f3f3f" stroke-width=".75"/><path d="M3.1,-3.5 L3.9,3.5" stroke="#3f3f3f" stroke-width=".75"/><path d="M4.7,-3.5 L5.5,3.5" stroke="#3f3f3f" stroke-width=".75"/><path d="M6.3,-3.5 L7.1,3.5" stroke="#3f3f3f" stroke-width=".75"/><path d="M7.9,-3.5 L8.7,3.5" stroke="#3f3f3f" stroke-width=".75"/><path d="M9.5,-3.5 L10.3,3.5" stroke="#3f3f3f" stroke-width=".75"/><path d="M11.1,-3.5 L11.9,3.5" stroke="#3f3f3f" stroke-width=".75"/><path d="M12.7,-3.5 L13.5,3.5" stroke="#3f3f3f" stroke-width=".75"/><path d="M14.3,-3.5 L15.1,3.5" stroke="#3f3f3f" stroke-width=".75"/><path d="M15.9,-3.5 L16.7,3.5" stroke="#3f3f3f" stroke-width=".75"/><path d="M17.5,-3.5 L18.3,3.5" stroke="#3f3f3f" stroke-width=".75"/><path d="M19.1,-3.5 L19.9,3.5" stroke="#3f3f3f" stroke-width=".75"/><path d="M20.7,-3.5 L21.5,3.5" stroke="#3f3f3f" stroke-width=".75"/><path d="M27.1,-3.5 L27.9,3.5" stroke="#3f3f3f" stroke-width=".75"/><path d="M28.7,-3.5 L29.5,3.5" stroke="#3f3f3f" stroke-width=".75"/><path d="M30.3,-3.5 L31.1,3.5" stroke="#3f3f3f" stroke-width=".75"/><path d="M31.9,-3.5 L32.7,3.5" stroke="#3f3f3f" stroke-width=".75"/><path d="M33.5,-3.5 L34.3,3.5" stroke="#3f3f3f" stroke-width=".75"/><path d="M35.1,-3.5 L35.9,3.5" stroke="#3f3f3f" stroke-width=".75"/><path d="M36.7,-3.5 L37.5,3.5" stroke="#3f3f3f" stroke-width=".75"/></g>
<g transform="translate(282.6 543.9) rotate(-30.7)"><rect x="0" y="-3.5" width="37.4" height="7.0" rx="2.2" fill="url(#gBolt)" stroke="#3f3f3f" stroke-width=".9"/><path d="M1.5,-3.5 L2.3,3.5" stroke="#3f3f3f" stroke-width=".75"/><path d="M3.1,-3.5 L3.9,3.5" stroke="#3f3f3f" stroke-width=".75"/><path d="M4.7,-3.5 L5.5,3.5" stroke="#3f3f3f" stroke-width=".75"/><path d="M6.3,-3.5 L7.1,3.5" stroke="#3f3f3f" stroke-width=".75"/><path d="M7.9,-3.5 L8.7,3.5" stroke="#3f3f3f" stroke-width=".75"/><path d="M9.5,-3.5 L10.3,3.5" stroke="#3f3f3f" stroke-width=".75"/><path d="M11.1,-3.5 L11.9,3.5" stroke="#3f3f3f" stroke-width=".75"/><path d="M12.7,-3.5 L13.5,3.5" stroke="#3f3f3f" stroke-width=".75"/><path d="M14.3,-3.5 L15.1,3.5" stroke="#3f3f3f" stroke-width=".75"/><path d="M15.9,-3.5 L16.7,3.5" stroke="#3f3f3f" stroke-width=".75"/><path d="M17.5,-3.5 L18.3,3.5" stroke="#3f3f3f" stroke-width=".75"/><path d="M19.1,-3.5 L19.9,3.5" stroke="#3f3f3f" stroke-width=".75"/><path d="M25.5,-3.5 L26.3,3.5" stroke="#3f3f3f" stroke-width=".75"/><path d="M27.1,-3.5 L27.9,3.5" stroke="#3f3f3f" stroke-width=".75"/><path d="M28.7,-3.5 L29.5,3.5" stroke="#3f3f3f" stroke-width=".75"/><path d="M30.3,-3.5 L31.1,3.5" stroke="#3f3f3f" stroke-width=".75"/><path d="M31.9,-3.5 L32.7,3.5" stroke="#3f3f3f" stroke-width=".75"/><path d="M33.5,-3.5 L34.3,3.5" stroke="#3f3f3f" stroke-width=".75"/><path d="M35.1,-3.5 L35.9,3.5" stroke="#3f3f3f" stroke-width=".75"/></g>
<g transform="translate(258.9 432.2) rotate(-25.0)"><ellipse cx="1.2" cy="0" rx="5.7" ry="6.9" fill="#8a8a8a" stroke="#3a3a3a" stroke-width="1.1"/><ellipse cx="-0.8" cy="0" rx="4.3" ry="5.2" fill="#606060" stroke="#444" stroke-width=".8"/><ellipse cx="-0.8" cy="0" rx="2.2" ry="2.9" fill="#9c9c9c" stroke="#3a3a3a" stroke-width=".6"/></g>
<g transform="translate(225.9 577.8) rotate(-25.0)"><ellipse cx="1.2" cy="0" rx="8.4" ry="10.2" fill="#8a8a8a" stroke="#3a3a3a" stroke-width="1.1"/><ellipse cx="-0.8" cy="0" rx="6.3" ry="7.8" fill="#606060" stroke="#444" stroke-width=".8"/><ellipse cx="-0.8" cy="0" rx="3.3" ry="4.3" fill="#9c9c9c" stroke="#3a3a3a" stroke-width=".6"/></g>
<path d="M597.0,144.9 L601.7,142.3 L608.1,145.3 L607.3,148.0 L600.9,150.0 L597.0,146.4Z" fill="#8c8c8c" stroke="#4a4a4a" stroke-width=".9"/>
<path d="M616.5,127.8C615.0,127.8 612.4,128.1 610.5,129.1C608.6,130.1 606.4,132.1 604.9,133.9C603.4,135.7 601.8,138.1 601.3,139.7C600.8,141.2 601.0,142.5 601.9,143.2C602.8,143.8 605.4,144.0 606.6,143.6C607.8,143.2 607.8,141.9 609.0,140.6C610.2,139.3 612.2,137.0 613.7,136.0C615.2,135.0 616.9,134.3 618.0,134.4C619.1,134.5 619.7,135.7 620.3,136.5C620.9,137.3 621.5,139.7 621.6,139.2C621.8,138.7 621.6,135.1 621.2,133.5C620.8,131.9 620.0,130.3 619.2,129.4C618.4,128.5 618.0,127.8 616.5,127.8Z" fill="#c6c6c6" stroke="#4a4a4a" stroke-width="1"/>
<path d="M603.5,139.5 q4,-7.5 13,-9.5" stroke="#ececec" stroke-width="1.5" fill="none"/>
<path d="M197.0,424.8C196.6,423.5 196.2,420.0 196.8,418.1C197.5,416.2 199.0,414.9 200.9,413.5C202.8,412.1 205.8,410.7 208.1,409.9C210.4,409.1 212.8,409.2 214.5,408.7C216.2,408.2 217.5,406.6 218.5,406.8C219.5,407.0 220.7,408.6 220.7,409.7C220.7,410.8 219.5,412.5 218.5,413.5C217.5,414.5 215.6,415.8 214.5,415.9C213.4,416.0 213.2,414.2 212.1,413.9C211.0,413.6 209.7,413.6 208.1,414.3C206.5,415.0 203.6,416.7 202.5,417.9C201.4,419.1 201.9,420.1 201.7,421.3C201.5,422.5 201.8,424.3 201.3,425.1C200.9,425.9 199.7,425.9 199.0,425.9C198.3,425.8 197.4,426.1 197.0,424.8Z" fill="#7c7c7c" stroke="#444" stroke-width="1"/>
<path d="M199.3,418.6 q5,-5.6 14.5,-7.6" stroke="#c9c9c9" stroke-width="1.3" fill="none"/>
<ellipse cx="670.3" cy="369.3" rx="10.8" ry="17.3" transform="rotate(-22 670.3 369.3)" fill="#6e6e6e" stroke="#3f3f3f" stroke-width="1.3"/>
<ellipse cx="668.4" cy="368.5" rx="8.8" ry="15.2" transform="rotate(-22 668.4 368.5)" fill="#8e8e8e" stroke="#b4b4b4" stroke-width=".9"/>
<g><path d="M433.0,534.0C435.7,531.2 440.5,529.2 444.0,528.5C447.5,527.8 451.1,528.5 454.0,530.0C456.9,531.5 459.6,534.5 461.5,537.5C463.4,540.5 464.7,544.5 465.3,548.0C465.9,551.5 465.9,555.5 465.0,558.5C464.1,561.5 462.7,563.9 460.0,566.0C457.3,568.1 452.7,569.8 449.0,571.0C445.3,572.2 441.2,574.8 438.0,573.0C434.8,571.2 431.7,564.7 430.0,560.0C428.3,555.3 427.5,549.3 428.0,545.0C428.5,540.7 430.3,536.8 433.0,534.0Z" fill="#a9a9a9" stroke="#444" stroke-width="1.1"/><path d="M440.0,533.0C440.5,531.7 446.2,530.6 449.0,531.0C451.8,531.4 454.4,533.2 456.5,535.5C458.6,537.8 460.5,541.4 461.5,544.5C462.5,547.6 462.9,551.4 462.5,554.0C462.1,556.6 460.8,561.0 459.0,560.0C457.2,559.0 454.2,551.5 452.0,548.0C449.8,544.5 448.0,541.5 446.0,539.0C444.0,536.5 439.5,534.3 440.0,533.0Z" fill="#c9c9c9" stroke="#666" stroke-width=".7"/><ellipse cx="455" cy="550.5" rx="9.3" ry="20.5" transform="rotate(-20 455 550.5)" fill="#bdbdbd" stroke="#4f4f4f" stroke-width="1"/><ellipse cx="456.5" cy="550" rx="6.6" ry="16.5" transform="rotate(-20 456.5 550)" fill="#a4a4a4" stroke="#666" stroke-width=".8"/><path d="M437,536 q10,9 13,30 M452,541 l8,-4 M455,552 l9,-3 M456,562 l6,-2.5" stroke="#5f5f5f" stroke-width=".9" fill="none"/><path d="M420.5,531.0C421.7,529.2 424.2,528.7 426.0,529.0C427.8,529.3 429.2,530.3 431.0,533.0C432.8,535.7 434.8,540.5 436.5,545.0C438.2,549.5 439.3,555.5 441.0,560.0C442.7,564.5 445.8,568.6 446.5,572.0C447.2,575.4 446.4,578.8 445.5,580.5C444.6,582.2 442.4,583.1 441.0,582.5C439.6,581.9 438.7,578.9 437.0,577.0C435.3,575.1 433.2,575.2 431.0,571.0C428.8,566.8 426.0,557.2 424.0,552.0C422.0,546.8 419.6,543.5 419.0,540.0C418.4,536.5 419.3,532.8 420.5,531.0Z" fill="#a0a0a0" stroke="#3f3f3f" stroke-width="1.1"/><path d="M423.0,534.0C423.5,532.3 426.2,533.3 428.0,536.0C429.8,538.7 432.3,545.2 434.0,550.0C435.7,554.8 436.8,560.7 438.0,565.0C439.2,569.3 441.3,574.8 441.0,576.0C440.7,577.2 437.8,574.7 436.0,572.0C434.2,569.3 431.8,564.3 430.0,560.0C428.2,555.7 426.2,550.3 425.0,546.0C423.8,541.7 422.5,535.7 423.0,534.0Z" fill="#8a8a8a" stroke="#555" stroke-width=".7"/><ellipse cx="423.5" cy="535" rx="1.7" ry="2.2" fill="#e8e8e8" stroke="#555" stroke-width=".6"/><ellipse cx="443.5" cy="570" rx="2" ry="2.6" fill="#e8e8e8" stroke="#555" stroke-width=".6"/><ellipse cx="441.5" cy="579" rx="1.7" ry="2.2" fill="#e0e0e0" stroke="#555" stroke-width=".6"/><ellipse cx="426.0" cy="563.5" rx="14.5" ry="19.5" transform="rotate(-22 426.0 563.5)" fill="#8c8c8c"/><ellipse cx="423.9" cy="564.4" rx="14.5" ry="19.5" transform="rotate(-22 423.9 564.4)" fill="#8c8c8c"/><ellipse cx="421.8" cy="565.2" rx="14.5" ry="19.5" transform="rotate(-22 421.8 565.2)" fill="#8c8c8c"/><ellipse cx="419.6" cy="566.1" rx="14.5" ry="19.5" transform="rotate(-22 419.6 566.1)" fill="#8c8c8c"/><ellipse cx="417.5" cy="567.0" rx="14.5" ry="19.5" transform="rotate(-22 417.5 567.0)" fill="#8c8c8c"/><ellipse cx="415.4" cy="567.9" rx="14.5" ry="19.5" transform="rotate(-22 415.4 567.9)" fill="#8c8c8c"/><ellipse cx="413.2" cy="568.8" rx="14.5" ry="19.5" transform="rotate(-22 413.2 568.8)" fill="#8c8c8c"/><ellipse cx="411.1" cy="569.6" rx="14.5" ry="19.5" transform="rotate(-22 411.1 569.6)" fill="#8c8c8c"/><ellipse cx="409.0" cy="570.5" rx="14.5" ry="19.5" transform="rotate(-22 409.0 570.5)" fill="#8c8c8c"/><path d="M393.7,567.5 l17.0,-7.0" stroke="#4a4a4a" stroke-width="1.6"/><path d="M393.9,564.0 l17.0,-7.0" stroke="#4a4a4a" stroke-width="1.6"/><path d="M394.6,560.7 l17.0,-7.0" stroke="#4a4a4a" stroke-width="1.6"/><path d="M395.8,557.8 l17.0,-7.0" stroke="#4a4a4a" stroke-width="1.6"/><path d="M397.5,555.4 l17.0,-7.0" stroke="#4a4a4a" stroke-width="1.6"/><path d="M399.7,553.5 l17.0,-7.0" stroke="#4a4a4a" stroke-width="1.6"/><path d="M402.2,552.2 l17.0,-7.0" stroke="#4a4a4a" stroke-width="1.6"/><path d="M404.9,551.7 l17.0,-7.0" stroke="#4a4a4a" stroke-width="1.6"/><path d="M407.8,551.8 l17.0,-7.0" stroke="#4a4a4a" stroke-width="1.6"/><path d="M410.7,552.6 l17.0,-7.0" stroke="#4a4a4a" stroke-width="1.6"/><path d="M413.6,554.0 l17.0,-7.0" stroke="#4a4a4a" stroke-width="1.6"/><path d="M416.3,556.1 l17.0,-7.0" stroke="#4a4a4a" stroke-width="1.6"/><path d="M418.7,558.7 l17.0,-7.0" stroke="#4a4a4a" stroke-width="1.6"/><path d="M420.8,561.7 l17.0,-7.0" stroke="#4a4a4a" stroke-width="1.6"/><path d="M422.4,565.1 l17.0,-7.0" stroke="#4a4a4a" stroke-width="1.6"/><path d="M423.6,568.6 l17.0,-7.0" stroke="#4a4a4a" stroke-width="1.6"/><path d="M424.2,572.2 l17.0,-7.0" stroke="#4a4a4a" stroke-width="1.6"/><path d="M424.3,575.8 l17.0,-7.0" stroke="#4a4a4a" stroke-width="1.6"/><path d="M423.7,579.2 l17.0,-7.0" stroke="#4a4a4a" stroke-width="1.6"/><path d="M422.7,582.2 l17.0,-7.0" stroke="#4a4a4a" stroke-width="1.6"/><path d="M421.1,584.8 l17.0,-7.0" stroke="#4a4a4a" stroke-width="1.6"/><path d="M414,556 l13,-5.5 l3,6.5 l-13,6z" fill="#d8d8d8" opacity=".85"/><ellipse cx="409.0" cy="570.5" rx="14.5" ry="19.5" transform="rotate(-22 409.0 570.5)" fill="#5c5c5c" stroke="#3a3a3a" stroke-width="2.2" stroke-dasharray="2.4 1.4"/><ellipse cx="409.5" cy="570.5" rx="10.5" ry="14.0" transform="rotate(-22 409.5 570.5)" fill="#6e6e6e" stroke="#8d8d8d" stroke-width=".8"/><ellipse cx="410.0" cy="571.5" rx="4.2" ry="6" transform="rotate(-22 410.0 571.5)" fill="#3a3a3a" stroke="#8a8a8a" stroke-width=".8"/><ellipse cx="410.5" cy="572.1" rx="1.8" ry="2.6" fill="#d0d0d0"/></g>
<path class="ld" d="M448,70 L453,62.3 L521.4,62.3 L529,53.8 L537,62.3 L603.4,62.3 L608.6,70.6"/>
<path class="ld" d="M528.6,98.7 L534.6,90.7 L588.7,90.7 L595.5,83 L602.6,90.7 L652.4,90.7 L658.4,98.7"/>
<path class="ld" d="M113.9,319.8 L120.9,311.2 L159.8,311.2 L167.1,302.9 L174.7,311.2 L217.5,311.2 L225.1,319.8"/>
<path class="ld" d="M461.0,80.0 L461.0,141.0"/>
<path class="ld" d="M642.8,90.7 L642.8,198.6"/>
<path class="ld" d="M611.6,108.0 L611.6,126.0"/>
<path class="ld" d="M387.0,142.0 L387.0,161.0"/>
<path class="ld" d="M294.9,252.0 L294.9,267.5"/>
<path class="ld" d="M419.3,276.0 L419.3,289.0"/>
<path class="ld" d="M379.9,306.0 L379.9,321.3"/>
<path class="ld" d="M464.7,288.0 L464.7,307.0"/>
<path class="ld" d="M428.9,342.8 L443.2,342.8"/>
<path class="ld" d="M506.6,329.6 L506.6,342.5"/>
<path class="ld" d="M674.3,386.5 L674.3,398.0"/>
<path class="ld" d="M478.5,407.7 L478.5,422.0"/>
<path class="ld" d="M455.1,484.4 L455.1,497.2"/>
<path class="ld" d="M420.0,489.2 L420.0,502.0"/>
<path class="ld" d="M435.1,581.9 L435.1,594.6"/>
<path class="ld" d="M129.9,314.2 L129.9,340.7"/>
<path class="ld" d="M206.6,328.8 L206.6,403.5"/>
<path class="ld" d="M261.3,437.0 L261.3,452.0"/>
<path class="ld" d="M298.6,441.7 L298.6,455.7"/>
<path class="ld" d="M295.6,543.9 L295.6,553.8"/>
<path class="ld" d="M261.7,571.8 L261.7,585.7"/>
<path class="ld" d="M229.9,586.7 L229.9,600.6"/>
<path class="ld" d="M185.7,862.1 L197.4,863.1"/>
<path class="ld" d="M125.5,695.7 L135.0,695.7"/>
<path class="th" d="M347.7,227.4 L337.8,232.4 L337.8,287.4 L324.9,294.9"/>
<path class="th" d="M394.2,320 L401.4,316.4"/>
<path class="th" d="M394.2,354.7 L385.9,359.5"/>
<path class="th" d="M474.3,307 L482.7,302.2"/>
<path class="th" d="M512.7,316.4 L523.7,310.5 L518.7,284.7 L514.7,264.8 L522.7,258.9"/>
<path class="th" d="M264.7,429.8 L269.7,426.8"/>
<path class="th" d="M233.8,572.7 L239.8,568.8"/>
<path class="th" d="M276.7,549.8 L282.6,545.9"/>
<path class="th" d="M227.1,855.7 L239.9,847.2"/>
<path class="th" d="M429.7,478 L436,474.5"/>
<path class="th" d="M345,381 L371,371"/>
<text class="lb" x="529.3" y="49.4">3A</text>
<text class="lb" x="461.0" y="77.2">6</text>
<text class="lb" x="505.7" y="78.2">7</text>
<text class="lb" x="596.7" y="77.2">3</text>
<text class="lb" x="611.6" y="105.4">4</text>
<text class="lb" x="386.3" y="139.7">14</text>
<text class="lb" x="293.0" y="247.7">13</text>
<text class="lb" x="419.3" y="269.7">21</text>
<text class="lb" x="380.0" y="301.7">22</text>
<text class="lb" x="464.7" y="285.1">7</text>
<text class="lb" x="451.6" y="348.5">16</text>
<text class="lb" x="506.6" y="355.7">5</text>
<text class="lb" x="675.0" y="411.5">8</text>
<text class="lb" x="479.3" y="435.7">23</text>
<text class="lb" x="456.0" y="512.7">24</text>
<text class="lb" x="420.7" y="515.7">25</text>
<text class="lb" x="436.0" y="609.1">26</text>
<text class="lb" x="167.7" y="298.7">1</text>
<text class="lb" x="206.2" y="325.5">2</text>
<text class="lb" x="258.7" y="465.3">17</text>
<text class="lb" x="296.6" y="470.3">15</text>
<text class="lb" x="294.6" y="568.5">19</text>
<text class="lb" x="259.7" y="600.4">18</text>
<text class="lb" x="230.9" y="615.3">20</text>
<text class="lb" x="173.4" y="867.8">10</text>
<text class="lb" x="114.6" y="701.2" style="fill:#857622;stroke:#857622">9</text>
</g>
</svg>
</body></html>
